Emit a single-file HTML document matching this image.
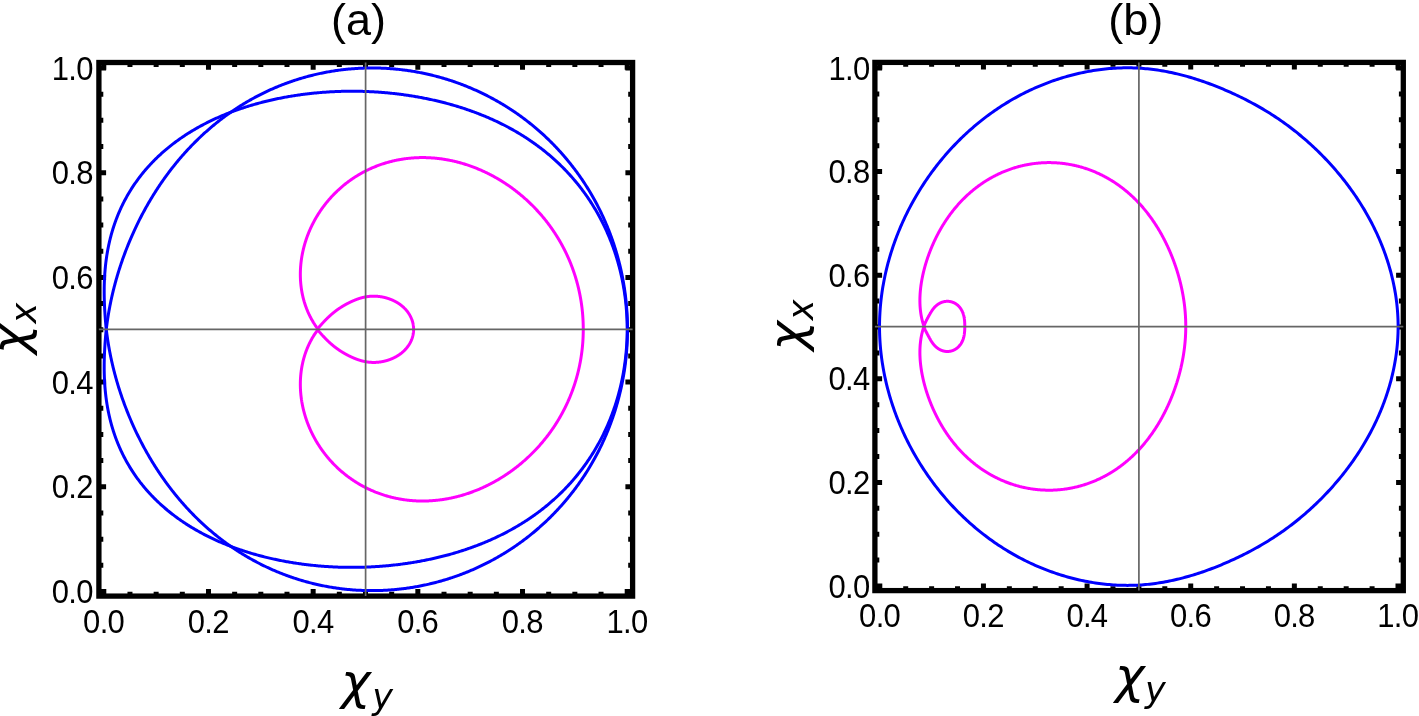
<!DOCTYPE html>
<html><head><meta charset="utf-8"><title>plot</title>
<style>html,body{margin:0;padding:0;background:#fff;}svg{display:block;}</style>
</head><body>
<svg width="1419" height="716" viewBox="0 0 1419 716">
<rect width="1419" height="716" fill="#fff"/>
<rect x="98.90" y="62.50" width="533.70" height="533.60" fill="none" stroke="#000" stroke-width="5.3"/>
<path d="M103.80 596.10V588.90M103.80 62.50V69.70M98.90 591.50H106.10M632.60 591.50H625.40M129.97 596.10V591.70M129.97 62.50V66.90M98.90 565.33H103.30M632.60 565.33H628.20M156.14 596.10V591.70M156.14 62.50V66.90M98.90 539.15H103.30M632.60 539.15H628.20M182.31 596.10V591.70M182.31 62.50V66.90M98.90 512.98H103.30M632.60 512.98H628.20M208.48 596.10V588.90M208.48 62.50V69.70M98.90 486.80H106.10M632.60 486.80H625.40M234.65 596.10V591.70M234.65 62.50V66.90M98.90 460.62H103.30M632.60 460.62H628.20M260.82 596.10V591.70M260.82 62.50V66.90M98.90 434.45H103.30M632.60 434.45H628.20M286.99 596.10V591.70M286.99 62.50V66.90M98.90 408.27H103.30M632.60 408.27H628.20M313.16 596.10V588.90M313.16 62.50V69.70M98.90 382.10H106.10M632.60 382.10H625.40M339.33 596.10V591.70M339.33 62.50V66.90M98.90 355.92H103.30M632.60 355.92H628.20M365.50 596.10V591.70M365.50 62.50V66.90M98.90 329.75H103.30M632.60 329.75H628.20M391.67 596.10V591.70M391.67 62.50V66.90M98.90 303.57H103.30M632.60 303.57H628.20M417.84 596.10V588.90M417.84 62.50V69.70M98.90 277.40H106.10M632.60 277.40H625.40M444.01 596.10V591.70M444.01 62.50V66.90M98.90 251.22H103.30M632.60 251.22H628.20M470.18 596.10V591.70M470.18 62.50V66.90M98.90 225.05H103.30M632.60 225.05H628.20M496.35 596.10V591.70M496.35 62.50V66.90M98.90 198.88H103.30M632.60 198.88H628.20M522.52 596.10V588.90M522.52 62.50V69.70M98.90 172.70H106.10M632.60 172.70H625.40M548.69 596.10V591.70M548.69 62.50V66.90M98.90 146.52H103.30M632.60 146.52H628.20M574.86 596.10V591.70M574.86 62.50V66.90M98.90 120.35H103.30M632.60 120.35H628.20M601.03 596.10V591.70M601.03 62.50V66.90M98.90 94.17H103.30M632.60 94.17H628.20M627.20 596.10V588.90M627.20 62.50V69.70M98.90 68.00H106.10M632.60 68.00H625.40" stroke="#000" stroke-width="5" fill="none"/>
<rect x="874.90" y="62.40" width="528.40" height="528.20" fill="none" stroke="#000" stroke-width="5.3"/>
<path d="M879.80 590.60V583.40M879.80 62.40V69.60M874.90 586.00H882.10M1403.30 586.00H1396.10M905.71 590.60V586.20M905.71 62.40V66.80M874.90 560.10H879.30M1403.30 560.10H1398.90M931.62 590.60V586.20M931.62 62.40V66.80M874.90 534.20H879.30M1403.30 534.20H1398.90M957.53 590.60V586.20M957.53 62.40V66.80M874.90 508.30H879.30M1403.30 508.30H1398.90M983.44 590.60V583.40M983.44 62.40V69.60M874.90 482.40H882.10M1403.30 482.40H1396.10M1009.35 590.60V586.20M1009.35 62.40V66.80M874.90 456.50H879.30M1403.30 456.50H1398.90M1035.26 590.60V586.20M1035.26 62.40V66.80M874.90 430.60H879.30M1403.30 430.60H1398.90M1061.17 590.60V586.20M1061.17 62.40V66.80M874.90 404.70H879.30M1403.30 404.70H1398.90M1087.08 590.60V583.40M1087.08 62.40V69.60M874.90 378.80H882.10M1403.30 378.80H1396.10M1112.99 590.60V586.20M1112.99 62.40V66.80M874.90 352.90H879.30M1403.30 352.90H1398.90M1138.90 590.60V586.20M1138.90 62.40V66.80M874.90 327.00H879.30M1403.30 327.00H1398.90M1164.81 590.60V586.20M1164.81 62.40V66.80M874.90 301.10H879.30M1403.30 301.10H1398.90M1190.72 590.60V583.40M1190.72 62.40V69.60M874.90 275.20H882.10M1403.30 275.20H1396.10M1216.63 590.60V586.20M1216.63 62.40V66.80M874.90 249.30H879.30M1403.30 249.30H1398.90M1242.54 590.60V586.20M1242.54 62.40V66.80M874.90 223.40H879.30M1403.30 223.40H1398.90M1268.45 590.60V586.20M1268.45 62.40V66.80M874.90 197.50H879.30M1403.30 197.50H1398.90M1294.36 590.60V583.40M1294.36 62.40V69.60M874.90 171.60H882.10M1403.30 171.60H1396.10M1320.27 590.60V586.20M1320.27 62.40V66.80M874.90 145.70H879.30M1403.30 145.70H1398.90M1346.18 590.60V586.20M1346.18 62.40V66.80M874.90 119.80H879.30M1403.30 119.80H1398.90M1372.09 590.60V586.20M1372.09 62.40V66.80M874.90 93.90H879.30M1403.30 93.90H1398.90M1398.00 590.60V583.40M1398.00 62.40V69.60M874.90 68.00H882.10M1403.30 68.00H1396.10" stroke="#000" stroke-width="5" fill="none"/>
<g fill="none" stroke-width="3" stroke-linejoin="round">
<path d="M106.30 329.30L106.43 330.43L106.57 331.56L106.71 332.69L106.85 333.82L107.00 334.94L107.15 336.07L107.31 337.19L107.47 338.31L107.63 339.43L107.80 340.55L107.98 341.67L108.15 342.79L108.34 343.91L108.52 345.02L108.71 346.13L108.90 347.25L109.10 348.36L109.30 349.47L109.51 350.58L109.72 351.68L109.93 352.79L110.15 353.89L110.37 355.00L110.59 356.10L110.82 357.20L111.05 358.30L111.29 359.39L111.53 360.49L111.77 361.58L112.02 362.68L112.27 363.77L112.52 364.86L112.78 365.95L113.04 367.04L113.31 368.12L113.58 369.21L113.85 370.29L114.13 371.37L114.41 372.45L114.69 373.53L114.98 374.61L115.27 375.69L115.56 376.76L115.86 377.83L116.16 378.91L116.46 379.98L116.77 381.05L117.08 382.11L117.40 383.18L117.72 384.24L118.04 385.31L118.36 386.37L118.69 387.43L119.02 388.49L119.36 389.54L119.70 390.60L120.04 391.65L120.38 392.70L120.73 393.75L121.08 394.80L121.44 395.85L121.80 396.90L122.16 397.94L122.52 398.99L122.89 400.03L123.26 401.07L123.64 402.11L124.02 403.14L124.40 404.18L124.78 405.21L125.17 406.24L125.56 407.28L125.96 408.30L126.36 409.33L126.76 410.36L127.16 411.38L127.57 412.41L127.98 413.43L128.39 414.45L128.81 415.46L129.23 416.48L129.65 417.50L130.08 418.51L130.51 419.52L130.94 420.53L131.38 421.54L131.82 422.55L132.26 423.55L132.71 424.56L133.16 425.56L133.61 426.56L134.06 427.56L134.52 428.55L134.98 429.55L135.45 430.54L135.92 431.54L136.39 432.53L136.86 433.52L137.34 434.50L137.82 435.49L138.31 436.47L138.79 437.45L139.28 438.43L139.78 439.41L140.27 440.39L140.77 441.37L141.28 442.34L141.78 443.31L142.29 444.28L142.81 445.25L143.32 446.22L143.84 447.18L144.37 448.14L144.89 449.10L145.42 450.06L145.95 451.02L146.49 451.98L147.03 452.93L147.57 453.88L148.11 454.83L148.66 455.78L149.21 456.73L149.77 457.67L150.33 458.61L150.89 459.55L151.45 460.49L152.02 461.43L152.59 462.36L153.17 463.30L153.74 464.23L154.33 465.16L154.91 466.08L155.50 467.01L156.09 467.93L156.68 468.85L157.28 469.77L157.88 470.69L158.48 471.60L159.09 472.52L159.70 473.43L160.32 474.34L160.93 475.24L161.55 476.15L162.18 477.05L162.81 477.95L163.44 478.85L164.07 479.74L164.71 480.64L165.35 481.53L165.99 482.42L166.64 483.30L167.29 484.19L167.94 485.07L168.60 485.95L169.26 486.83L169.93 487.70L170.59 488.58L171.26 489.45L171.94 490.31L172.62 491.18L173.30 492.04L173.98 492.90L174.67 493.76L175.36 494.62L176.05 495.47L176.75 496.32L177.45 497.17L178.16 498.02L178.86 498.86L179.58 499.70L180.29 500.54L181.01 501.37L181.73 502.21L182.45 503.04L183.18 503.86L183.91 504.69L184.65 505.51L185.39 506.33L186.13 507.15L186.87 507.96L187.62 508.77L188.37 509.58L189.13 510.39L189.89 511.19L190.65 511.99L191.41 512.78L192.18 513.58L192.95 514.37L193.73 515.16L194.51 515.94L195.29 516.72L196.07 517.50L196.86 518.28L197.65 519.05L198.45 519.82L199.25 520.59L200.05 521.35L200.86 522.11L201.66 522.87L202.48 523.62L203.29 524.37L204.11 525.12L204.93 525.86L205.76 526.60L206.58 527.34L207.42 528.08L208.25 528.81L209.09 529.54L209.93 530.26L210.78 530.98L211.62 531.70L212.47 532.41L213.33 533.12L214.19 533.83L215.05 534.53L215.91 535.23L216.78 535.93L217.65 536.62L218.52 537.31L219.40 538.00L220.28 538.68L221.16 539.36L222.05 540.03L222.93 540.70L223.83 541.37L224.72 542.03L225.62 542.69L226.52 543.35L227.43 544.00L228.33 544.65L229.24 545.29L230.16 545.93L231.07 546.57L231.99 547.20L232.92 547.83L233.84 548.46L234.77 549.08L235.70 549.70L236.64 550.31L237.57 550.92L238.51 551.52L239.46 552.13L240.40 552.72L241.35 553.31L242.30 553.90L243.26 554.49L244.21 555.07L245.17 555.65L246.14 556.22L247.10 556.79L248.07 557.35L249.04 557.91L250.01 558.46L250.99 559.01L251.97 559.56L252.95 560.10L253.94 560.64L254.92 561.18L255.91 561.70L256.90 562.23L257.90 562.75L258.90 563.27L259.90 563.78L260.90 564.29L261.90 564.79L262.91 565.29L263.92 565.78L264.93 566.27L265.95 566.76L266.96 567.24L267.98 567.71L269.00 568.18L270.03 568.65L271.05 569.11L272.08 569.57L273.11 570.02L274.15 570.47L275.18 570.91L276.22 571.35L277.26 571.79L278.30 572.22L279.34 572.64L280.39 573.06L281.44 573.48L282.49 573.89L283.54 574.29L284.60 574.70L285.65 575.09L286.71 575.48L287.77 575.87L288.83 576.25L289.90 576.63L290.96 577.00L292.03 577.37L293.10 577.73L294.17 578.09L295.25 578.44L296.32 578.79L297.40 579.14L298.48 579.47L299.56 579.81L300.64 580.14L301.73 580.46L302.81 580.78L303.90 581.09L304.99 581.40L306.08 581.70L307.17 582.00L308.26 582.30L309.36 582.59L310.46 582.87L311.55 583.15L312.65 583.42L313.75 583.69L314.86 583.95L315.96 584.21L317.06 584.47L318.17 584.72L319.28 584.96L320.39 585.20L321.50 585.43L322.61 585.66L323.72 585.88L324.83 586.10L325.95 586.31L327.07 586.52L328.18 586.73L329.30 586.92L330.42 587.12L331.54 587.30L332.66 587.49L333.78 587.66L334.91 587.84L336.03 588.00L337.16 588.16L338.28 588.32L339.41 588.47L340.54 588.62L341.66 588.76L342.79 588.90L343.92 589.03L345.05 589.15L346.18 589.27L347.32 589.39L348.45 589.50L349.58 589.61L350.72 589.71L351.85 589.80L352.99 589.89L354.12 589.97L355.26 590.05L356.39 590.13L357.53 590.20L358.67 590.26L359.81 590.32L360.94 590.37L362.08 590.42L363.22 590.46L364.36 590.50L365.50 590.53L366.64 590.56L367.78 590.58L368.92 590.60L370.06 590.61L371.20 590.62L372.34 590.62L373.48 590.62L374.62 590.61L375.76 590.59L376.91 590.57L378.05 590.55L379.19 590.52L380.33 590.48L381.47 590.44L382.61 590.40L383.75 590.35L384.89 590.29L386.03 590.23L387.17 590.16L388.31 590.09L389.45 590.02L390.59 589.94L391.73 589.85L392.87 589.76L394.01 589.66L395.15 589.56L396.28 589.45L397.42 589.34L398.56 589.22L399.70 589.10L400.83 588.97L401.97 588.83L403.10 588.70L404.24 588.55L405.37 588.40L406.51 588.25L407.64 588.09L408.77 587.93L409.90 587.76L411.03 587.58L412.16 587.40L413.29 587.22L414.42 587.03L415.55 586.83L416.68 586.63L417.80 586.43L418.93 586.22L420.05 586.00L421.18 585.78L422.30 585.56L423.42 585.32L424.54 585.09L425.66 584.85L426.78 584.60L427.90 584.35L429.02 584.09L430.13 583.83L431.25 583.57L432.36 583.30L433.47 583.02L434.58 582.74L435.69 582.45L436.80 582.16L437.91 581.86L439.01 581.56L440.12 581.26L441.22 580.94L442.32 580.63L443.42 580.31L444.52 579.98L445.62 579.65L446.72 579.31L447.81 578.97L448.91 578.63L450.00 578.27L451.09 577.92L452.18 577.56L453.27 577.19L454.35 576.82L455.44 576.44L456.52 576.06L457.60 575.68L458.68 575.29L459.76 574.89L460.83 574.49L461.90 574.08L462.98 573.67L464.05 573.26L465.12 572.84L466.18 572.42L467.25 571.99L468.31 571.55L469.37 571.11L470.43 570.67L471.49 570.22L472.54 569.77L473.59 569.31L474.65 568.84L475.69 568.38L476.74 567.90L477.79 567.43L478.83 566.94L479.87 566.46L480.91 565.97L481.94 565.47L482.98 564.97L484.01 564.46L485.04 563.95L486.07 563.44L487.09 562.92L488.11 562.39L489.13 561.86L490.15 561.33L491.17 560.79L492.18 560.25L493.19 559.70L494.20 559.15L495.20 558.59L496.21 558.03L497.21 557.47L498.20 556.90L499.20 556.32L500.19 555.74L501.18 555.16L502.17 554.57L503.16 553.98L504.14 553.38L505.12 552.78L506.09 552.17L507.07 551.56L508.04 550.95L509.01 550.33L509.97 549.70L510.94 549.07L511.90 548.44L512.85 547.80L513.81 547.16L514.76 546.52L515.71 545.87L516.65 545.21L517.60 544.55L518.54 543.89L519.47 543.22L520.41 542.55L521.34 541.88L522.27 541.20L523.19 540.51L524.11 539.83L525.03 539.13L525.95 538.44L526.86 537.74L527.77 537.03L528.67 536.32L529.57 535.61L530.47 534.89L531.37 534.17L532.26 533.45L533.15 532.72L534.04 531.98L534.92 531.25L535.80 530.50L536.68 529.76L537.55 529.01L538.42 528.26L539.28 527.50L540.15 526.74L541.00 525.97L541.86 525.20L542.71 524.43L543.56 523.66L544.40 522.88L545.25 522.09L546.08 521.30L546.92 520.51L547.75 519.72L548.58 518.92L549.40 518.11L550.22 517.31L551.03 516.50L551.85 515.68L552.66 514.86L553.46 514.04L554.26 513.22L555.06 512.39L555.85 511.56L556.64 510.72L557.43 509.88L558.21 509.04L558.99 508.19L559.76 507.34L560.53 506.49L561.30 505.63L562.06 504.77L562.82 503.91L563.58 503.04L564.33 502.17L565.08 501.30L565.82 500.42L566.56 499.54L567.30 498.66L568.03 497.77L568.75 496.88L569.48 495.99L570.20 495.09L570.91 494.19L571.62 493.29L572.33 492.38L573.03 491.47L573.73 490.56L574.43 489.65L575.12 488.73L575.80 487.81L576.49 486.88L577.17 485.95L577.84 485.02L578.51 484.09L579.17 483.15L579.84 482.21L580.49 481.27L581.15 480.33L581.79 479.38L582.44 478.43L583.08 477.47L583.72 476.52L584.35 475.56L584.97 474.59L585.60 473.63L586.22 472.66L586.83 471.69L587.44 470.72L588.05 469.74L588.65 468.76L589.24 467.78L589.84 466.80L590.42 465.81L591.01 464.82L591.59 463.83L592.16 462.84L592.73 461.84L593.30 460.84L593.86 459.84L594.42 458.84L594.97 457.83L595.52 456.83L596.06 455.81L596.60 454.80L597.14 453.79L597.67 452.77L598.19 451.75L598.71 450.73L599.23 449.70L599.74 448.68L600.25 447.65L600.75 446.62L601.25 445.58L601.75 444.55L602.23 443.51L602.72 442.47L603.20 441.43L603.68 440.38L604.15 439.34L604.61 438.29L605.08 437.24L605.53 436.19L605.99 435.14L606.43 434.08L606.88 433.02L607.32 431.96L607.75 430.90L608.18 429.84L608.61 428.78L609.03 427.71L609.44 426.64L609.85 425.57L610.26 424.50L610.66 423.43L611.06 422.35L611.45 421.27L611.84 420.20L612.22 419.12L612.60 418.03L612.97 416.95L613.34 415.87L613.71 414.78L614.07 413.69L614.42 412.60L614.77 411.51L615.12 410.42L615.46 409.33L615.79 408.23L616.13 407.14L616.45 406.04L616.77 404.94L617.09 403.84L617.40 402.74L617.71 401.63L618.01 400.53L618.31 399.42L618.61 398.32L618.90 397.21L619.18 396.10L619.46 394.99L619.73 393.88L620.00 392.77L620.27 391.65L620.53 390.54L620.78 389.42L621.04 388.31L621.28 387.19L621.52 386.07L621.76 384.95L621.99 383.83L622.22 382.71L622.44 381.59L622.66 380.46L622.87 379.34L623.08 378.21L623.28 377.09L623.48 375.96L623.68 374.83L623.86 373.70L624.05 372.57L624.23 371.44L624.40 370.31L624.57 369.18L624.74 368.05L624.90 366.92L625.05 365.78L625.20 364.65L625.35 363.52L625.49 362.38L625.63 361.25L625.76 360.11L625.89 358.97L626.01 357.84L626.13 356.70L626.24 355.56L626.35 354.42L626.45 353.28L626.55 352.14L626.64 351.00L626.73 349.86L626.81 348.72L626.89 347.58L626.97 346.44L627.04 345.30L627.10 344.16L627.16 343.02L627.22 341.87L627.27 340.73L627.31 339.59L627.35 338.45L627.39 337.30L627.42 336.16L627.45 335.02L627.47 333.87L627.48 332.73L627.50 331.59L627.50 330.44L627.51 329.30L627.50 328.16L627.50 327.01L627.48 325.87L627.47 324.73L627.45 323.58L627.42 322.44L627.39 321.30L627.35 320.15L627.31 319.01L627.27 317.87L627.22 316.73L627.16 315.58L627.10 314.44L627.04 313.30L626.97 312.16L626.89 311.02L626.81 309.88L626.73 308.74L626.64 307.60L626.55 306.46L626.45 305.32L626.35 304.18L626.24 303.04L626.13 301.90L626.01 300.76L625.89 299.63L625.76 298.49L625.63 297.35L625.49 296.22L625.35 295.08L625.20 293.95L625.05 292.82L624.90 291.68L624.74 290.55L624.57 289.42L624.40 288.29L624.23 287.16L624.05 286.03L623.86 284.90L623.68 283.77L623.48 282.64L623.28 281.51L623.08 280.39L622.87 279.26L622.66 278.14L622.44 277.01L622.22 275.89L621.99 274.77L621.76 273.65L621.52 272.53L621.28 271.41L621.04 270.29L620.78 269.18L620.53 268.06L620.27 266.95L620.00 265.83L619.73 264.72L619.46 263.61L619.18 262.50L618.90 261.39L618.61 260.28L618.31 259.18L618.01 258.07L617.71 256.97L617.40 255.86L617.09 254.76L616.77 253.66L616.45 252.56L616.13 251.46L615.79 250.37L615.46 249.27L615.12 248.18L614.77 247.09L614.42 246.00L614.07 244.91L613.71 243.82L613.34 242.73L612.97 241.65L612.60 240.57L612.22 239.48L611.84 238.40L611.45 237.33L611.06 236.25L610.66 235.17L610.26 234.10L609.85 233.03L609.44 231.96L609.03 230.89L608.61 229.82L608.18 228.76L607.75 227.70L607.32 226.64L606.88 225.58L606.43 224.52L605.99 223.46L605.53 222.41L605.08 221.36L604.61 220.31L604.15 219.26L603.68 218.22L603.20 217.17L602.72 216.13L602.23 215.09L601.75 214.05L601.25 213.02L600.75 211.98L600.25 210.95L599.74 209.92L599.23 208.90L598.71 207.87L598.19 206.85L597.67 205.83L597.14 204.81L596.60 203.80L596.06 202.79L595.52 201.77L594.97 200.77L594.42 199.76L593.86 198.76L593.30 197.76L592.73 196.76L592.16 195.76L591.59 194.77L591.01 193.78L590.42 192.79L589.84 191.80L589.24 190.82L588.65 189.84L588.05 188.86L587.44 187.88L586.83 186.91L586.22 185.94L585.60 184.97L584.97 184.01L584.35 183.04L583.72 182.08L583.08 181.13L582.44 180.17L581.79 179.22L581.15 178.27L580.49 177.33L579.84 176.39L579.17 175.45L578.51 174.51L577.84 173.58L577.17 172.65L576.49 171.72L575.80 170.79L575.12 169.87L574.43 168.95L573.73 168.04L573.03 167.13L572.33 166.22L571.62 165.31L570.91 164.41L570.20 163.51L569.48 162.61L568.75 161.72L568.03 160.83L567.30 159.94L566.56 159.06L565.82 158.18L565.08 157.30L564.33 156.43L563.58 155.56L562.82 154.69L562.06 153.83L561.30 152.97L560.53 152.11L559.76 151.26L558.99 150.41L558.21 149.56L557.43 148.72L556.64 147.88L555.85 147.04L555.06 146.21L554.26 145.38L553.46 144.56L552.66 143.74L551.85 142.92L551.03 142.10L550.22 141.29L549.40 140.49L548.58 139.68L547.75 138.88L546.92 138.09L546.08 137.30L545.25 136.51L544.40 135.72L543.56 134.94L542.71 134.17L541.86 133.40L541.00 132.63L540.15 131.86L539.28 131.10L538.42 130.34L537.55 129.59L536.68 128.84L535.80 128.10L534.92 127.35L534.04 126.62L533.15 125.88L532.26 125.15L531.37 124.43L530.47 123.71L529.57 122.99L528.67 122.28L527.77 121.57L526.86 120.86L525.95 120.16L525.03 119.47L524.11 118.77L523.19 118.09L522.27 117.40L521.34 116.72L520.41 116.05L519.47 115.38L518.54 114.71L517.60 114.05L516.65 113.39L515.71 112.73L514.76 112.08L513.81 111.44L512.85 110.80L511.90 110.16L510.94 109.53L509.97 108.90L509.01 108.27L508.04 107.65L507.07 107.04L506.09 106.43L505.12 105.82L504.14 105.22L503.16 104.62L502.17 104.03L501.18 103.44L500.19 102.86L499.20 102.28L498.20 101.70L497.21 101.13L496.21 100.57L495.20 100.01L494.20 99.45L493.19 98.90L492.18 98.35L491.17 97.81L490.15 97.27L489.13 96.74L488.11 96.21L487.09 95.68L486.07 95.16L485.04 94.65L484.01 94.14L482.98 93.63L481.94 93.13L480.91 92.63L479.87 92.14L478.83 91.66L477.79 91.17L476.74 90.70L475.69 90.22L474.65 89.76L473.59 89.29L472.54 88.83L471.49 88.38L470.43 87.93L469.37 87.49L468.31 87.05L467.25 86.61L466.18 86.18L465.12 85.76L464.05 85.34L462.98 84.93L461.90 84.52L460.83 84.11L459.76 83.71L458.68 83.31L457.60 82.92L456.52 82.54L455.44 82.16L454.35 81.78L453.27 81.41L452.18 81.04L451.09 80.68L450.00 80.33L448.91 79.97L447.81 79.63L446.72 79.29L445.62 78.95L444.52 78.62L443.42 78.29L442.32 77.97L441.22 77.66L440.12 77.34L439.01 77.04L437.91 76.74L436.80 76.44L435.69 76.15L434.58 75.86L433.47 75.58L432.36 75.30L431.25 75.03L430.13 74.77L429.02 74.51L427.90 74.25L426.78 74.00L425.66 73.75L424.54 73.51L423.42 73.28L422.30 73.04L421.18 72.82L420.05 72.60L418.93 72.38L417.80 72.17L416.68 71.97L415.55 71.77L414.42 71.57L413.29 71.38L412.16 71.20L411.03 71.02L409.90 70.84L408.77 70.67L407.64 70.51L406.51 70.35L405.37 70.20L404.24 70.05L403.10 69.90L401.97 69.77L400.83 69.63L399.70 69.50L398.56 69.38L397.42 69.26L396.28 69.15L395.15 69.04L394.01 68.94L392.87 68.84L391.73 68.75L390.59 68.66L389.45 68.58L388.31 68.51L387.17 68.44L386.03 68.37L384.89 68.31L383.75 68.25L382.61 68.20L381.47 68.16L380.33 68.12L379.19 68.08L378.05 68.05L376.91 68.03L375.76 68.01L374.62 67.99L373.48 67.98L372.34 67.98L371.20 67.98L370.06 67.99L368.92 68.00L367.78 68.02L366.64 68.04L365.50 68.07L364.36 68.10L363.22 68.14L362.08 68.18L360.94 68.23L359.81 68.28L358.67 68.34L357.53 68.40L356.39 68.47L355.26 68.55L354.12 68.63L352.99 68.71L351.85 68.80L350.72 68.89L349.58 68.99L348.45 69.10L347.32 69.21L346.18 69.33L345.05 69.45L343.92 69.57L342.79 69.70L341.66 69.84L340.54 69.98L339.41 70.13L338.28 70.28L337.16 70.44L336.03 70.60L334.91 70.76L333.78 70.94L332.66 71.11L331.54 71.30L330.42 71.48L329.30 71.68L328.18 71.87L327.07 72.08L325.95 72.29L324.83 72.50L323.72 72.72L322.61 72.94L321.50 73.17L320.39 73.40L319.28 73.64L318.17 73.88L317.06 74.13L315.96 74.39L314.86 74.65L313.75 74.91L312.65 75.18L311.55 75.45L310.46 75.73L309.36 76.01L308.26 76.30L307.17 76.60L306.08 76.90L304.99 77.20L303.90 77.51L302.81 77.82L301.73 78.14L300.64 78.46L299.56 78.79L298.48 79.13L297.40 79.46L296.32 79.81L295.25 80.16L294.17 80.51L293.10 80.87L292.03 81.23L290.96 81.60L289.90 81.97L288.83 82.35L287.77 82.73L286.71 83.12L285.65 83.51L284.60 83.90L283.54 84.31L282.49 84.71L281.44 85.12L280.39 85.54L279.34 85.96L278.30 86.38L277.26 86.81L276.22 87.25L275.18 87.69L274.15 88.13L273.11 88.58L272.08 89.03L271.05 89.49L270.03 89.95L269.00 90.42L267.98 90.89L266.96 91.36L265.95 91.84L264.93 92.33L263.92 92.82L262.91 93.31L261.90 93.81L260.90 94.31L259.90 94.82L258.90 95.33L257.90 95.85L256.90 96.37L255.91 96.90L254.92 97.42L253.94 97.96L252.95 98.50L251.97 99.04L250.99 99.59L250.01 100.14L249.04 100.69L248.07 101.25L247.10 101.81L246.14 102.38L245.17 102.95L244.21 103.53L243.26 104.11L242.30 104.70L241.35 105.29L240.40 105.88L239.46 106.47L238.51 107.08L237.57 107.68L236.64 108.29L235.70 108.90L234.77 109.52L233.84 110.14L232.92 110.77L231.99 111.40L231.07 112.03L230.16 112.67L229.24 113.31L228.33 113.95L227.43 114.60L226.52 115.25L225.62 115.91L224.72 116.57L223.83 117.23L222.93 117.90L222.05 118.57L221.16 119.24L220.28 119.92L219.40 120.60L218.52 121.29L217.65 121.98L216.78 122.67L215.91 123.37L215.05 124.07L214.19 124.77L213.33 125.48L212.47 126.19L211.62 126.90L210.78 127.62L209.93 128.34L209.09 129.06L208.25 129.79L207.42 130.52L206.58 131.26L205.76 132.00L204.93 132.74L204.11 133.48L203.29 134.23L202.48 134.98L201.66 135.73L200.86 136.49L200.05 137.25L199.25 138.01L198.45 138.78L197.65 139.55L196.86 140.32L196.07 141.10L195.29 141.88L194.51 142.66L193.73 143.44L192.95 144.23L192.18 145.02L191.41 145.82L190.65 146.61L189.89 147.41L189.13 148.21L188.37 149.02L187.62 149.83L186.87 150.64L186.13 151.45L185.39 152.27L184.65 153.09L183.91 153.91L183.18 154.74L182.45 155.56L181.73 156.39L181.01 157.23L180.29 158.06L179.58 158.90L178.86 159.74L178.16 160.58L177.45 161.43L176.75 162.28L176.05 163.13L175.36 163.98L174.67 164.84L173.98 165.70L173.30 166.56L172.62 167.42L171.94 168.29L171.26 169.15L170.59 170.02L169.93 170.90L169.26 171.77L168.60 172.65L167.94 173.53L167.29 174.41L166.64 175.30L165.99 176.18L165.35 177.07L164.71 177.96L164.07 178.86L163.44 179.75L162.81 180.65L162.18 181.55L161.55 182.45L160.93 183.36L160.32 184.26L159.70 185.17L159.09 186.08L158.48 187.00L157.88 187.91L157.28 188.83L156.68 189.75L156.09 190.67L155.50 191.59L154.91 192.52L154.33 193.44L153.74 194.37L153.17 195.30L152.59 196.24L152.02 197.17L151.45 198.11L150.89 199.05L150.33 199.99L149.77 200.93L149.21 201.87L148.66 202.82L148.11 203.77L147.57 204.72L147.03 205.67L146.49 206.62L145.95 207.58L145.42 208.54L144.89 209.50L144.37 210.46L143.84 211.42L143.32 212.38L142.81 213.35L142.29 214.32L141.78 215.29L141.28 216.26L140.77 217.23L140.27 218.21L139.78 219.19L139.28 220.17L138.79 221.15L138.31 222.13L137.82 223.11L137.34 224.10L136.86 225.08L136.39 226.07L135.92 227.06L135.45 228.06L134.98 229.05L134.52 230.05L134.06 231.04L133.61 232.04L133.16 233.04L132.71 234.04L132.26 235.05L131.82 236.05L131.38 237.06L130.94 238.07L130.51 239.08L130.08 240.09L129.65 241.10L129.23 242.12L128.81 243.14L128.39 244.15L127.98 245.17L127.57 246.19L127.16 247.22L126.76 248.24L126.36 249.27L125.96 250.30L125.56 251.32L125.17 252.36L124.78 253.39L124.40 254.42L124.02 255.46L123.64 256.49L123.26 257.53L122.89 258.57L122.52 259.61L122.16 260.66L121.80 261.70L121.44 262.75L121.08 263.80L120.73 264.85L120.38 265.90L120.04 266.95L119.70 268.00L119.36 269.06L119.02 270.11L118.69 271.17L118.36 272.23L118.04 273.29L117.72 274.36L117.40 275.42L117.08 276.49L116.77 277.55L116.46 278.62L116.16 279.69L115.86 280.77L115.56 281.84L115.27 282.91L114.98 283.99L114.69 285.07L114.41 286.15L114.13 287.23L113.85 288.31L113.58 289.39L113.31 290.48L113.04 291.56L112.78 292.65L112.52 293.74L112.27 294.83L112.02 295.92L111.77 297.02L111.53 298.11L111.29 299.21L111.05 300.30L110.82 301.40L110.59 302.50L110.37 303.60L110.15 304.71L109.93 305.81L109.72 306.92L109.51 308.02L109.30 309.13L109.10 310.24L108.90 311.35L108.71 312.47L108.52 313.58L108.34 314.69L108.15 315.81L107.98 316.93L107.80 318.05L107.63 319.17L107.47 320.29L107.31 321.41L107.15 322.53L107.00 323.66L106.85 324.78L106.71 325.91L106.57 327.04L106.43 328.17L106.30 329.30Z" stroke="#0000ff"/>
<path d="M106.23 329.30L106.12 330.43L106.01 331.56L105.91 332.70L105.81 333.83L105.71 334.97L105.61 336.11L105.51 337.24L105.42 338.38L105.33 339.52L105.25 340.67L105.16 341.81L105.08 342.95L105.00 344.09L104.93 345.24L104.86 346.39L104.79 347.53L104.72 348.68L104.66 349.83L104.60 350.98L104.55 352.13L104.49 353.29L104.45 354.44L104.40 355.60L104.36 356.75L104.33 357.91L104.29 359.07L104.27 360.22L104.24 361.38L104.22 362.54L104.21 363.71L104.20 364.87L104.19 366.03L104.19 367.20L104.19 368.36L104.20 369.53L104.21 370.69L104.23 371.86L104.25 373.03L104.28 374.19L104.32 375.36L104.35 376.53L104.40 377.70L104.45 378.87L104.50 380.04L104.56 381.21L104.63 382.38L104.70 383.56L104.78 384.73L104.86 385.90L104.95 387.07L105.05 388.25L105.15 389.42L105.26 390.59L105.37 391.76L105.49 392.94L105.62 394.11L105.75 395.28L105.89 396.45L106.04 397.62L106.19 398.79L106.35 399.96L106.52 401.13L106.69 402.30L106.88 403.47L107.06 404.64L107.26 405.81L107.46 406.98L107.67 408.14L107.88 409.31L108.11 410.47L108.34 411.63L108.58 412.80L108.82 413.96L109.07 415.12L109.33 416.27L109.60 417.43L109.88 418.59L110.16 419.74L110.45 420.89L110.75 422.04L111.05 423.19L111.36 424.34L111.68 425.48L112.01 426.62L112.35 427.76L112.69 428.90L113.04 430.04L113.40 431.17L113.77 432.30L114.15 433.43L114.53 434.56L114.92 435.69L115.32 436.81L115.72 437.93L116.14 439.04L116.56 440.16L116.99 441.27L117.43 442.37L117.87 443.48L118.33 444.58L118.79 445.68L119.26 446.77L119.74 447.86L120.22 448.95L120.71 450.04L121.21 451.12L121.72 452.20L122.24 453.27L122.76 454.34L123.30 455.41L123.83 456.47L124.38 457.53L124.94 458.58L125.50 459.64L126.07 460.68L126.65 461.72L127.23 462.76L127.82 463.80L128.42 464.83L129.03 465.85L129.65 466.87L130.27 467.89L130.90 468.90L131.53 469.91L132.18 470.91L132.83 471.91L133.49 472.90L134.15 473.89L134.83 474.87L135.51 475.85L136.19 476.82L136.89 477.79L137.59 478.76L138.29 479.71L139.01 480.67L139.73 481.61L140.45 482.56L141.19 483.49L141.93 484.43L142.68 485.35L143.43 486.27L144.19 487.19L144.95 488.10L145.73 489.01L146.50 489.91L147.29 490.80L148.08 491.69L148.87 492.57L149.68 493.45L150.48 494.32L151.30 495.18L152.12 496.04L152.94 496.90L153.77 497.75L154.61 498.59L155.45 499.43L156.30 500.26L157.15 501.08L158.01 501.90L158.87 502.72L159.74 503.52L160.61 504.33L161.49 505.12L162.37 505.91L163.26 506.70L164.15 507.48L165.04 508.25L165.95 509.01L166.85 509.77L167.76 510.53L168.68 511.28L169.59 512.02L170.52 512.76L171.44 513.49L172.38 514.21L173.31 514.93L174.25 515.64L175.19 516.35L176.14 517.05L177.09 517.75L178.04 518.44L179.00 519.12L179.96 519.80L180.93 520.47L181.90 521.13L182.87 521.79L183.84 522.45L184.82 523.09L185.80 523.74L186.78 524.37L187.77 525.00L188.76 525.63L189.75 526.25L190.75 526.86L191.75 527.47L192.75 528.07L193.75 528.66L194.76 529.25L195.77 529.84L196.78 530.42L197.79 530.99L198.80 531.56L199.82 532.12L200.84 532.67L201.86 533.22L202.89 533.77L203.91 534.31L204.94 534.84L205.97 535.37L207.00 535.90L208.04 536.41L209.07 536.93L210.11 537.43L211.15 537.93L212.19 538.43L213.23 538.92L214.27 539.41L215.32 539.89L216.36 540.36L217.41 540.83L218.46 541.30L219.51 541.76L220.56 542.21L221.61 542.66L222.66 543.11L223.72 543.55L224.77 543.98L225.83 544.41L226.89 544.84L227.95 545.26L229.00 545.67L230.06 546.08L231.12 546.49L232.19 546.89L233.25 547.29L234.31 547.68L235.37 548.07L236.44 548.45L237.50 548.82L238.57 549.20L239.63 549.57L240.70 549.93L241.76 550.29L242.83 550.64L243.90 550.99L244.97 551.34L246.03 551.68L247.10 552.02L248.17 552.35L249.24 552.68L250.31 553.00L251.38 553.32L252.45 553.64L253.52 553.95L254.58 554.26L255.65 554.56L256.72 554.86L257.79 555.15L258.86 555.44L259.93 555.73L261.00 556.01L262.07 556.29L263.14 556.57L264.21 556.84L265.28 557.10L266.35 557.37L267.42 557.63L268.49 557.88L269.56 558.13L270.63 558.38L271.70 558.62L272.77 558.86L273.84 559.10L274.91 559.33L275.97 559.56L277.04 559.79L278.11 560.01L279.18 560.23L280.24 560.44L281.31 560.65L282.38 560.86L283.44 561.06L284.51 561.26L285.58 561.46L286.64 561.65L287.71 561.84L288.77 562.03L289.84 562.21L290.90 562.39L291.97 562.56L293.03 562.74L294.09 562.90L295.16 563.07L296.22 563.23L297.28 563.39L298.34 563.55L299.41 563.70L300.47 563.85L301.53 563.99L302.59 564.14L303.65 564.27L304.71 564.41L305.77 564.54L306.83 564.67L307.88 564.80L308.94 564.92L310.00 565.04L311.06 565.16L312.11 565.27L313.17 565.38L314.23 565.49L315.28 565.60L316.34 565.70L317.39 565.80L318.45 565.89L319.50 565.98L320.56 566.07L321.61 566.16L322.66 566.24L323.71 566.32L324.77 566.40L325.82 566.47L326.87 566.54L327.92 566.61L328.97 566.68L330.02 566.74L331.07 566.80L332.12 566.85L333.17 566.91L334.22 566.96L335.27 567.00L336.31 567.05L337.36 567.09L338.41 567.13L339.45 567.16L340.50 567.20L341.55 567.23L342.59 567.25L343.64 567.28L344.68 567.30L345.73 567.32L346.77 567.33L347.81 567.35L348.86 567.36L349.90 567.36L350.94 567.37L351.98 567.37L353.03 567.37L354.07 567.36L355.11 567.36L356.15 567.35L357.19 567.33L358.23 567.32L359.27 567.30L360.31 567.28L361.35 567.25L362.39 567.23L363.42 567.20L364.46 567.16L365.50 567.13L366.54 567.09L367.57 567.05L368.61 567.01L369.65 566.96L370.68 566.91L371.72 566.86L372.75 566.80L373.79 566.74L374.83 566.68L375.86 566.62L376.89 566.55L377.93 566.49L378.96 566.41L380.00 566.34L381.03 566.26L382.06 566.18L383.09 566.10L384.13 566.01L385.16 565.92L386.19 565.83L387.22 565.74L388.25 565.64L389.28 565.54L390.31 565.44L391.34 565.33L392.38 565.23L393.41 565.11L394.43 565.00L395.46 564.88L396.49 564.76L397.52 564.64L398.55 564.52L399.58 564.39L400.61 564.26L401.64 564.12L402.66 563.99L403.69 563.85L404.72 563.70L405.75 563.56L406.77 563.41L407.80 563.26L408.82 563.10L409.85 562.95L410.88 562.79L411.90 562.62L412.93 562.46L413.95 562.29L414.98 562.12L416.00 561.94L417.03 561.76L418.05 561.58L419.07 561.40L420.10 561.21L421.12 561.02L422.14 560.83L423.17 560.63L424.19 560.43L425.21 560.23L426.23 560.03L427.26 559.82L428.28 559.61L429.30 559.39L430.32 559.17L431.34 558.95L432.36 558.73L433.38 558.50L434.40 558.27L435.42 558.04L436.44 557.80L437.46 557.56L438.48 557.32L439.49 557.07L440.51 556.82L441.53 556.57L442.55 556.31L443.56 556.05L444.58 555.79L445.60 555.53L446.61 555.26L447.63 554.98L448.64 554.71L449.66 554.43L450.67 554.14L451.68 553.86L452.70 553.57L453.71 553.27L454.72 552.98L455.73 552.68L456.74 552.37L457.76 552.07L458.77 551.76L459.78 551.44L460.78 551.12L461.79 550.80L462.80 550.48L463.81 550.15L464.82 549.81L465.82 549.48L466.83 549.14L467.83 548.79L468.84 548.45L469.84 548.10L470.84 547.74L471.85 547.38L472.85 547.02L473.85 546.65L474.85 546.28L475.85 545.91L476.85 545.53L477.84 545.15L478.84 544.76L479.84 544.37L480.83 543.98L481.82 543.58L482.82 543.18L483.81 542.78L484.80 542.37L485.79 541.95L486.78 541.54L487.77 541.12L488.76 540.69L489.74 540.26L490.73 539.83L491.71 539.39L492.69 538.95L493.67 538.50L494.65 538.05L495.63 537.60L496.61 537.14L497.59 536.67L498.56 536.21L499.53 535.73L500.51 535.26L501.48 534.78L502.45 534.29L503.41 533.81L504.38 533.31L505.35 532.81L506.31 532.31L507.27 531.81L508.23 531.30L509.19 530.78L510.14 530.26L511.10 529.74L512.05 529.21L513.00 528.68L513.95 528.14L514.90 527.60L515.85 527.05L516.79 526.50L517.73 525.95L518.67 525.39L519.61 524.82L520.54 524.26L521.48 523.68L522.41 523.10L523.34 522.52L524.27 521.94L525.19 521.34L526.11 520.75L527.03 520.15L527.95 519.54L528.87 518.93L529.78 518.32L530.69 517.70L531.60 517.08L532.50 516.45L533.41 515.82L534.31 515.18L535.21 514.54L536.10 513.89L536.99 513.24L537.88 512.58L538.77 511.92L539.65 511.26L540.54 510.59L541.41 509.92L542.29 509.24L543.16 508.55L544.03 507.87L544.90 507.17L545.76 506.48L546.62 505.77L547.48 505.07L548.33 504.36L549.18 503.64L550.03 502.92L550.87 502.20L551.72 501.47L552.55 500.74L553.39 500.00L554.22 499.25L555.04 498.51L555.87 497.76L556.69 497.00L557.50 496.24L558.32 495.47L559.13 494.70L559.93 493.93L560.73 493.15L561.53 492.37L562.33 491.58L563.12 490.79L563.90 490.00L564.69 489.19L565.47 488.39L566.24 487.58L567.01 486.77L567.78 485.95L568.54 485.13L569.30 484.30L570.05 483.47L570.81 482.64L571.55 481.80L572.29 480.96L573.03 480.11L573.77 479.26L574.49 478.40L575.22 477.54L575.94 476.68L576.66 475.81L577.37 474.94L578.08 474.07L578.78 473.19L579.48 472.30L580.17 471.42L580.86 470.52L581.55 469.63L582.23 468.73L582.90 467.83L583.57 466.92L584.24 466.01L584.90 465.10L585.56 464.18L586.21 463.26L586.86 462.33L587.50 461.40L588.14 460.47L588.78 459.54L589.40 458.60L590.03 457.65L590.65 456.71L591.26 455.76L591.87 454.80L592.47 453.85L593.07 452.89L593.67 451.92L594.26 450.96L594.84 449.98L595.42 449.01L595.99 448.03L596.56 447.06L597.13 446.07L597.69 445.09L598.24 444.10L598.79 443.10L599.33 442.11L599.87 441.11L600.41 440.11L600.93 439.11L601.46 438.10L601.98 437.09L602.49 436.08L603.00 435.06L603.50 434.04L604.00 433.02L604.49 432.00L604.98 430.97L605.46 429.94L605.93 428.91L606.41 427.88L606.87 426.84L607.33 425.80L607.79 424.76L608.24 423.71L608.68 422.67L609.12 421.62L609.56 420.57L609.99 419.51L610.41 418.46L610.83 417.40L611.24 416.34L611.65 415.28L612.05 414.21L612.45 413.14L612.84 412.08L613.23 411.00L613.61 409.93L613.99 408.86L614.36 407.78L614.72 406.70L615.08 405.62L615.44 404.54L615.79 403.45L616.13 402.37L616.47 401.28L616.80 400.19L617.13 399.10L617.45 398.00L617.77 396.91L618.08 395.81L618.39 394.71L618.69 393.61L618.99 392.51L619.28 391.41L619.57 390.31L619.85 389.20L620.12 388.10L620.39 386.99L620.66 385.88L620.91 384.77L621.17 383.65L621.42 382.54L621.66 381.43L621.90 380.31L622.13 379.19L622.36 378.08L622.58 376.96L622.80 375.84L623.01 374.71L623.21 373.59L623.42 372.47L623.61 371.34L623.80 370.22L623.99 369.09L624.17 367.97L624.34 366.84L624.51 365.71L624.68 364.58L624.83 363.45L624.99 362.32L625.14 361.19L625.28 360.05L625.42 358.92L625.55 357.79L625.68 356.65L625.80 355.52L625.92 354.38L626.03 353.24L626.14 352.11L626.24 350.97L626.33 349.83L626.42 348.69L626.51 347.56L626.59 346.42L626.67 345.28L626.74 344.14L626.80 343.00L626.86 341.86L626.92 340.72L626.97 339.57L627.01 338.43L627.05 337.29L627.08 336.15L627.11 335.01L627.13 333.87L627.15 332.73L627.17 331.58L627.17 330.44L627.18 329.30L627.17 328.16L627.17 327.02L627.15 325.87L627.13 324.73L627.11 323.59L627.08 322.45L627.05 321.31L627.01 320.17L626.97 319.03L626.92 317.88L626.86 316.74L626.80 315.60L626.74 314.46L626.67 313.32L626.59 312.18L626.51 311.04L626.42 309.91L626.33 308.77L626.24 307.63L626.14 306.49L626.03 305.36L625.92 304.22L625.80 303.08L625.68 301.95L625.55 300.81L625.42 299.68L625.28 298.55L625.14 297.41L624.99 296.28L624.83 295.15L624.68 294.02L624.51 292.89L624.34 291.76L624.17 290.63L623.99 289.51L623.80 288.38L623.61 287.26L623.42 286.13L623.21 285.01L623.01 283.89L622.80 282.76L622.58 281.64L622.36 280.52L622.13 279.41L621.90 278.29L621.66 277.17L621.42 276.06L621.17 274.95L620.91 273.83L620.66 272.72L620.39 271.61L620.12 270.50L619.85 269.40L619.57 268.29L619.28 267.19L618.99 266.09L618.69 264.99L618.39 263.89L618.08 262.79L617.77 261.69L617.45 260.60L617.13 259.50L616.80 258.41L616.47 257.32L616.13 256.23L615.79 255.15L615.44 254.06L615.08 252.98L614.72 251.90L614.36 250.82L613.99 249.74L613.61 248.67L613.23 247.60L612.84 246.52L612.45 245.46L612.05 244.39L611.65 243.32L611.24 242.26L610.83 241.20L610.41 240.14L609.99 239.09L609.56 238.03L609.12 236.98L608.68 235.93L608.24 234.89L607.79 233.84L607.33 232.80L606.87 231.76L606.41 230.72L605.93 229.69L605.46 228.66L604.98 227.63L604.49 226.60L604.00 225.58L603.50 224.56L603.00 223.54L602.49 222.52L601.98 221.51L601.46 220.50L600.93 219.49L600.41 218.49L599.87 217.49L599.33 216.49L598.79 215.50L598.24 214.50L597.69 213.51L597.13 212.53L596.56 211.54L595.99 210.57L595.42 209.59L594.84 208.62L594.26 207.64L593.67 206.68L593.07 205.71L592.47 204.75L591.87 203.80L591.26 202.84L590.65 201.89L590.03 200.95L589.40 200.00L588.78 199.06L588.14 198.13L587.50 197.20L586.86 196.27L586.21 195.34L585.56 194.42L584.90 193.50L584.24 192.59L583.57 191.68L582.90 190.77L582.23 189.87L581.55 188.97L580.86 188.08L580.17 187.18L579.48 186.30L578.78 185.41L578.08 184.53L577.37 183.66L576.66 182.79L575.94 181.92L575.22 181.06L574.49 180.20L573.77 179.34L573.03 178.49L572.29 177.64L571.55 176.80L570.81 175.96L570.05 175.13L569.30 174.30L568.54 173.47L567.78 172.65L567.01 171.83L566.24 171.02L565.47 170.21L564.69 169.41L563.90 168.60L563.12 167.81L562.33 167.02L561.53 166.23L560.73 165.45L559.93 164.67L559.13 163.90L558.32 163.13L557.50 162.36L556.69 161.60L555.87 160.84L555.04 160.09L554.22 159.35L553.39 158.60L552.55 157.86L551.72 157.13L550.87 156.40L550.03 155.68L549.18 154.96L548.33 154.24L547.48 153.53L546.62 152.83L545.76 152.12L544.90 151.43L544.03 150.73L543.16 150.05L542.29 149.36L541.41 148.68L540.54 148.01L539.65 147.34L538.77 146.68L537.88 146.02L536.99 145.36L536.10 144.71L535.21 144.06L534.31 143.42L533.41 142.78L532.50 142.15L531.60 141.52L530.69 140.90L529.78 140.28L528.87 139.67L527.95 139.06L527.03 138.45L526.11 137.85L525.19 137.26L524.27 136.66L523.34 136.08L522.41 135.50L521.48 134.92L520.54 134.34L519.61 133.78L518.67 133.21L517.73 132.65L516.79 132.10L515.85 131.55L514.90 131.00L513.95 130.46L513.00 129.92L512.05 129.39L511.10 128.86L510.14 128.34L509.19 127.82L508.23 127.30L507.27 126.79L506.31 126.29L505.35 125.79L504.38 125.29L503.41 124.79L502.45 124.31L501.48 123.82L500.51 123.34L499.53 122.87L498.56 122.39L497.59 121.93L496.61 121.46L495.63 121.00L494.65 120.55L493.67 120.10L492.69 119.65L491.71 119.21L490.73 118.77L489.74 118.34L488.76 117.91L487.77 117.48L486.78 117.06L485.79 116.65L484.80 116.23L483.81 115.82L482.82 115.42L481.82 115.02L480.83 114.62L479.84 114.23L478.84 113.84L477.84 113.45L476.85 113.07L475.85 112.69L474.85 112.32L473.85 111.95L472.85 111.58L471.85 111.22L470.84 110.86L469.84 110.50L468.84 110.15L467.83 109.81L466.83 109.46L465.82 109.12L464.82 108.79L463.81 108.45L462.80 108.12L461.79 107.80L460.78 107.48L459.78 107.16L458.77 106.84L457.76 106.53L456.74 106.23L455.73 105.92L454.72 105.62L453.71 105.33L452.70 105.03L451.68 104.74L450.67 104.46L449.66 104.17L448.64 103.89L447.63 103.62L446.61 103.34L445.60 103.07L444.58 102.81L443.56 102.55L442.55 102.29L441.53 102.03L440.51 101.78L439.49 101.53L438.48 101.28L437.46 101.04L436.44 100.80L435.42 100.56L434.40 100.33L433.38 100.10L432.36 99.87L431.34 99.65L430.32 99.43L429.30 99.21L428.28 98.99L427.26 98.78L426.23 98.57L425.21 98.37L424.19 98.17L423.17 97.97L422.14 97.77L421.12 97.58L420.10 97.39L419.07 97.20L418.05 97.02L417.03 96.84L416.00 96.66L414.98 96.48L413.95 96.31L412.93 96.14L411.90 95.98L410.88 95.81L409.85 95.65L408.82 95.50L407.80 95.34L406.77 95.19L405.75 95.04L404.72 94.90L403.69 94.75L402.66 94.61L401.64 94.48L400.61 94.34L399.58 94.21L398.55 94.08L397.52 93.96L396.49 93.84L395.46 93.72L394.43 93.60L393.41 93.49L392.38 93.37L391.34 93.27L390.31 93.16L389.28 93.06L388.25 92.96L387.22 92.86L386.19 92.77L385.16 92.68L384.13 92.59L383.09 92.50L382.06 92.42L381.03 92.34L380.00 92.26L378.96 92.19L377.93 92.11L376.89 92.05L375.86 91.98L374.83 91.92L373.79 91.86L372.75 91.80L371.72 91.74L370.68 91.69L369.65 91.64L368.61 91.59L367.57 91.55L366.54 91.51L365.50 91.47L364.46 91.44L363.42 91.40L362.39 91.37L361.35 91.35L360.31 91.32L359.27 91.30L358.23 91.28L357.19 91.27L356.15 91.25L355.11 91.24L354.07 91.24L353.03 91.23L351.98 91.23L350.94 91.23L349.90 91.24L348.86 91.24L347.81 91.25L346.77 91.27L345.73 91.28L344.68 91.30L343.64 91.32L342.59 91.35L341.55 91.37L340.50 91.40L339.45 91.44L338.41 91.47L337.36 91.51L336.31 91.55L335.27 91.60L334.22 91.64L333.17 91.69L332.12 91.75L331.07 91.80L330.02 91.86L328.97 91.92L327.92 91.99L326.87 92.06L325.82 92.13L324.77 92.20L323.71 92.28L322.66 92.36L321.61 92.44L320.56 92.53L319.50 92.62L318.45 92.71L317.39 92.80L316.34 92.90L315.28 93.00L314.23 93.11L313.17 93.22L312.11 93.33L311.06 93.44L310.00 93.56L308.94 93.68L307.88 93.80L306.83 93.93L305.77 94.06L304.71 94.19L303.65 94.33L302.59 94.46L301.53 94.61L300.47 94.75L299.41 94.90L298.34 95.05L297.28 95.21L296.22 95.37L295.16 95.53L294.09 95.70L293.03 95.86L291.97 96.04L290.90 96.21L289.84 96.39L288.77 96.57L287.71 96.76L286.64 96.95L285.58 97.14L284.51 97.34L283.44 97.54L282.38 97.74L281.31 97.95L280.24 98.16L279.18 98.37L278.11 98.59L277.04 98.81L275.97 99.04L274.91 99.27L273.84 99.50L272.77 99.74L271.70 99.98L270.63 100.22L269.56 100.47L268.49 100.72L267.42 100.97L266.35 101.23L265.28 101.50L264.21 101.76L263.14 102.03L262.07 102.31L261.00 102.59L259.93 102.87L258.86 103.16L257.79 103.45L256.72 103.74L255.65 104.04L254.58 104.34L253.52 104.65L252.45 104.96L251.38 105.28L250.31 105.60L249.24 105.92L248.17 106.25L247.10 106.58L246.03 106.92L244.97 107.26L243.90 107.61L242.83 107.96L241.76 108.31L240.70 108.67L239.63 109.03L238.57 109.40L237.50 109.78L236.44 110.15L235.37 110.53L234.31 110.92L233.25 111.31L232.19 111.71L231.12 112.11L230.06 112.52L229.00 112.93L227.95 113.34L226.89 113.76L225.83 114.19L224.77 114.62L223.72 115.05L222.66 115.49L221.61 115.94L220.56 116.39L219.51 116.84L218.46 117.30L217.41 117.77L216.36 118.24L215.32 118.71L214.27 119.19L213.23 119.68L212.19 120.17L211.15 120.67L210.11 121.17L209.07 121.67L208.04 122.19L207.00 122.70L205.97 123.23L204.94 123.76L203.91 124.29L202.89 124.83L201.86 125.38L200.84 125.93L199.82 126.48L198.80 127.04L197.79 127.61L196.78 128.18L195.77 128.76L194.76 129.35L193.75 129.94L192.75 130.53L191.75 131.13L190.75 131.74L189.75 132.35L188.76 132.97L187.77 133.60L186.78 134.23L185.80 134.86L184.82 135.51L183.84 136.15L182.87 136.81L181.90 137.47L180.93 138.13L179.96 138.80L179.00 139.48L178.04 140.16L177.09 140.85L176.14 141.55L175.19 142.25L174.25 142.96L173.31 143.67L172.38 144.39L171.44 145.11L170.52 145.84L169.59 146.58L168.68 147.32L167.76 148.07L166.85 148.83L165.95 149.59L165.04 150.35L164.15 151.12L163.26 151.90L162.37 152.69L161.49 153.48L160.61 154.27L159.74 155.08L158.87 155.88L158.01 156.70L157.15 157.52L156.30 158.34L155.45 159.17L154.61 160.01L153.77 160.85L152.94 161.70L152.12 162.56L151.30 163.42L150.48 164.28L149.68 165.15L148.87 166.03L148.08 166.91L147.29 167.80L146.50 168.69L145.73 169.59L144.95 170.50L144.19 171.41L143.43 172.33L142.68 173.25L141.93 174.17L141.19 175.11L140.45 176.04L139.73 176.99L139.01 177.93L138.29 178.89L137.59 179.84L136.89 180.81L136.19 181.78L135.51 182.75L134.83 183.73L134.15 184.71L133.49 185.70L132.83 186.69L132.18 187.69L131.53 188.69L130.90 189.70L130.27 190.71L129.65 191.73L129.03 192.75L128.42 193.77L127.82 194.80L127.23 195.84L126.65 196.88L126.07 197.92L125.50 198.96L124.94 200.02L124.38 201.07L123.83 202.13L123.30 203.19L122.76 204.26L122.24 205.33L121.72 206.40L121.21 207.48L120.71 208.56L120.22 209.65L119.74 210.74L119.26 211.83L118.79 212.92L118.33 214.02L117.87 215.12L117.43 216.23L116.99 217.33L116.56 218.44L116.14 219.56L115.72 220.67L115.32 221.79L114.92 222.91L114.53 224.04L114.15 225.17L113.77 226.30L113.40 227.43L113.04 228.56L112.69 229.70L112.35 230.84L112.01 231.98L111.68 233.12L111.36 234.26L111.05 235.41L110.75 236.56L110.45 237.71L110.16 238.86L109.88 240.01L109.60 241.17L109.33 242.33L109.07 243.48L108.82 244.64L108.58 245.80L108.34 246.97L108.11 248.13L107.88 249.29L107.67 250.46L107.46 251.62L107.26 252.79L107.06 253.96L106.88 255.13L106.69 256.30L106.52 257.47L106.35 258.64L106.19 259.81L106.04 260.98L105.89 262.15L105.75 263.32L105.62 264.49L105.49 265.66L105.37 266.84L105.26 268.01L105.15 269.18L105.05 270.35L104.95 271.53L104.86 272.70L104.78 273.87L104.70 275.04L104.63 276.22L104.56 277.39L104.50 278.56L104.45 279.73L104.40 280.90L104.35 282.07L104.32 283.24L104.28 284.41L104.25 285.57L104.23 286.74L104.21 287.91L104.20 289.07L104.19 290.24L104.19 291.40L104.19 292.57L104.20 293.73L104.21 294.89L104.22 296.06L104.24 297.22L104.27 298.38L104.29 299.53L104.33 300.69L104.36 301.85L104.40 303.00L104.45 304.16L104.49 305.31L104.55 306.47L104.60 307.62L104.66 308.77L104.72 309.92L104.79 311.07L104.86 312.21L104.93 313.36L105.00 314.51L105.08 315.65L105.16 316.79L105.25 317.93L105.33 319.08L105.42 320.22L105.51 321.36L105.61 322.49L105.71 323.63L105.81 324.77L105.91 325.90L106.01 327.04L106.12 328.17L106.23 329.30Z" stroke="#0000ff"/>
<path d="M318.14 329.30L317.77 329.79L317.40 330.28L317.03 330.78L316.67 331.28L316.31 331.78L315.96 332.29L315.61 332.80L315.26 333.31L314.91 333.82L314.57 334.34L314.24 334.86L313.90 335.39L313.57 335.91L313.25 336.44L312.93 336.97L312.61 337.51L312.29 338.05L311.98 338.59L311.67 339.13L311.37 339.68L311.07 340.23L310.78 340.78L310.48 341.34L310.20 341.89L309.91 342.45L309.63 343.02L309.36 343.58L309.08 344.15L308.82 344.72L308.55 345.29L308.29 345.87L308.04 346.44L307.78 347.02L307.54 347.61L307.29 348.19L307.05 348.78L306.82 349.37L306.58 349.96L306.36 350.55L306.13 351.15L305.91 351.74L305.70 352.34L305.49 352.94L305.28 353.55L305.08 354.15L304.88 354.76L304.68 355.37L304.49 355.98L304.31 356.60L304.12 357.21L303.95 357.83L303.77 358.45L303.60 359.07L303.44 359.69L303.28 360.31L303.12 360.94L302.97 361.57L302.82 362.20L302.68 362.83L302.54 363.46L302.40 364.09L302.27 364.73L302.14 365.37L302.02 366.00L301.90 366.64L301.79 367.29L301.68 367.93L301.57 368.57L301.47 369.22L301.38 369.86L301.28 370.51L301.19 371.16L301.11 371.81L301.03 372.46L300.96 373.11L300.89 373.77L300.82 374.42L300.76 375.08L300.70 375.73L300.65 376.39L300.60 377.05L300.55 377.71L300.51 378.37L300.47 379.03L300.44 379.69L300.42 380.35L300.39 381.02L300.37 381.68L300.36 382.35L300.35 383.01L300.34 383.68L300.34 384.35L300.34 385.02L300.35 385.68L300.36 386.35L300.38 387.02L300.40 387.69L300.42 388.36L300.45 389.03L300.49 389.70L300.52 390.38L300.57 391.05L300.61 391.72L300.66 392.39L300.72 393.07L300.78 393.74L300.84 394.41L300.91 395.09L300.98 395.76L301.06 396.44L301.14 397.11L301.22 397.78L301.31 398.46L301.41 399.13L301.50 399.81L301.61 400.48L301.71 401.16L301.83 401.83L301.94 402.51L302.06 403.18L302.18 403.85L302.31 404.53L302.45 405.20L302.58 405.88L302.72 406.55L302.87 407.22L303.02 407.89L303.17 408.57L303.33 409.24L303.49 409.91L303.66 410.58L303.83 411.25L304.01 411.92L304.19 412.59L304.37 413.26L304.56 413.93L304.75 414.60L304.95 415.26L305.15 415.93L305.35 416.60L305.56 417.26L305.77 417.93L305.99 418.59L306.21 419.25L306.44 419.92L306.67 420.58L306.90 421.24L307.14 421.90L307.38 422.56L307.63 423.21L307.88 423.87L308.14 424.53L308.40 425.18L308.66 425.84L308.93 426.49L309.20 427.14L309.48 427.79L309.76 428.44L310.04 429.09L310.33 429.74L310.62 430.38L310.92 431.03L311.22 431.67L311.52 432.31L311.83 432.95L312.14 433.59L312.46 434.23L312.78 434.86L313.11 435.50L313.44 436.13L313.77 436.76L314.11 437.39L314.45 438.02L314.79 438.65L315.14 439.27L315.50 439.90L315.85 440.52L316.21 441.14L316.58 441.76L316.95 442.37L317.32 442.99L317.70 443.60L318.08 444.21L318.46 444.82L318.85 445.43L319.25 446.03L319.64 446.64L320.04 447.24L320.45 447.84L320.85 448.43L321.27 449.03L321.68 449.62L322.10 450.21L322.52 450.80L322.95 451.39L323.38 451.97L323.82 452.55L324.26 453.13L324.70 453.71L325.14 454.29L325.59 454.86L326.05 455.43L326.50 456.00L326.97 456.56L327.43 457.12L327.90 457.68L328.37 458.24L328.85 458.80L329.32 459.35L329.81 459.90L330.29 460.45L330.78 460.99L331.28 461.53L331.77 462.07L332.27 462.61L332.78 463.14L333.28 463.67L333.79 464.20L334.31 464.73L334.83 465.25L335.35 465.77L335.87 466.28L336.40 466.80L336.93 467.31L337.47 467.81L338.00 468.32L338.55 468.82L339.09 469.32L339.64 469.81L340.19 470.30L340.74 470.79L341.30 471.28L341.86 471.76L342.43 472.24L342.99 472.71L343.56 473.18L344.14 473.65L344.71 474.12L345.29 474.58L345.87 475.04L346.46 475.49L347.05 475.95L347.64 476.39L348.23 476.84L348.83 477.28L349.43 477.72L350.03 478.15L350.64 478.58L351.25 479.01L351.86 479.43L352.47 479.85L353.09 480.27L353.71 480.68L354.33 481.09L354.96 481.49L355.59 481.90L356.22 482.29L356.85 482.69L357.49 483.08L358.13 483.46L358.77 483.84L359.41 484.22L360.06 484.60L360.71 484.97L361.36 485.33L362.01 485.70L362.67 486.05L363.32 486.41L363.98 486.76L364.65 487.11L365.31 487.45L365.98 487.79L366.65 488.12L367.32 488.45L367.99 488.78L368.67 489.10L369.35 489.42L370.03 489.73L370.71 490.04L371.39 490.35L372.08 490.65L372.77 490.95L373.46 491.24L374.15 491.53L374.84 491.81L375.54 492.10L376.24 492.37L376.94 492.64L377.64 492.91L378.34 493.17L379.04 493.43L379.75 493.69L380.46 493.94L381.17 494.19L381.88 494.43L382.59 494.67L383.31 494.90L384.02 495.13L384.74 495.35L385.46 495.57L386.18 495.79L386.90 496.00L387.62 496.21L388.34 496.41L389.07 496.61L389.79 496.80L390.52 496.99L391.25 497.18L391.98 497.36L392.71 497.54L393.44 497.71L394.17 497.88L394.91 498.04L395.64 498.20L396.38 498.36L397.12 498.51L397.85 498.65L398.59 498.79L399.33 498.93L400.07 499.06L400.81 499.19L401.55 499.32L402.30 499.44L403.04 499.55L403.78 499.66L404.53 499.77L405.27 499.87L406.02 499.97L406.76 500.06L407.51 500.15L408.26 500.23L409.01 500.31L409.75 500.39L410.50 500.46L411.25 500.53L412.00 500.59L412.75 500.65L413.50 500.70L414.25 500.75L415.00 500.80L415.75 500.84L416.50 500.88L417.25 500.91L418.00 500.94L418.75 500.96L419.50 500.98L420.25 501.00L421.00 501.01L421.75 501.01L422.50 501.02L423.25 501.02L424.00 501.01L424.76 501.00L425.51 500.99L426.25 500.97L427.00 500.94L427.75 500.92L428.50 500.89L429.25 500.85L430.00 500.81L430.75 500.77L431.50 500.72L432.24 500.67L432.99 500.62L433.74 500.56L434.48 500.49L435.23 500.43L435.97 500.35L436.72 500.28L437.46 500.20L438.20 500.12L438.95 500.03L439.69 499.94L440.43 499.84L441.17 499.74L441.91 499.64L442.65 499.53L443.39 499.42L444.12 499.31L444.86 499.19L445.60 499.06L446.33 498.94L447.07 498.81L447.80 498.67L448.53 498.54L449.26 498.39L449.99 498.25L450.72 498.10L451.45 497.95L452.18 497.79L452.90 497.63L453.63 497.47L454.35 497.30L455.08 497.13L455.80 496.96L456.52 496.78L457.24 496.60L457.96 496.41L458.68 496.22L459.39 496.03L460.11 495.83L460.82 495.63L461.54 495.43L462.25 495.23L462.96 495.02L463.67 494.80L464.37 494.59L465.08 494.37L465.78 494.14L466.49 493.92L467.19 493.69L467.89 493.46L468.59 493.22L469.29 492.98L469.99 492.74L470.68 492.49L471.37 492.24L472.07 491.99L472.76 491.73L473.45 491.47L474.13 491.21L474.82 490.95L475.50 490.68L476.19 490.41L476.87 490.13L477.55 489.86L478.23 489.58L478.91 489.29L479.58 489.01L480.25 488.72L480.93 488.42L481.60 488.13L482.27 487.83L482.93 487.53L483.60 487.22L484.26 486.92L484.92 486.61L485.58 486.29L486.24 485.98L486.90 485.66L487.55 485.34L488.21 485.01L488.86 484.69L489.51 484.36L490.16 484.02L490.80 483.69L491.45 483.35L492.09 483.01L492.73 482.67L493.37 482.32L494.01 481.97L494.64 481.62L495.28 481.27L495.91 480.91L496.54 480.55L497.17 480.19L497.79 479.83L498.42 479.46L499.04 479.09L499.66 478.72L500.28 478.34L500.90 477.97L501.51 477.59L502.12 477.20L502.74 476.82L503.34 476.43L503.95 476.04L504.56 475.65L505.16 475.26L505.76 474.86L506.36 474.46L506.96 474.06L507.55 473.66L508.15 473.25L508.74 472.85L509.33 472.44L509.91 472.02L510.50 471.61L511.08 471.19L511.66 470.77L512.24 470.35L512.82 469.93L513.39 469.50L513.97 469.07L514.54 468.64L515.11 468.21L515.67 467.77L516.24 467.34L516.80 466.90L517.36 466.46L517.92 466.01L518.48 465.57L519.03 465.12L519.58 464.67L520.13 464.22L520.68 463.77L521.23 463.31L521.77 462.85L522.31 462.39L522.85 461.93L523.39 461.47L523.92 461.00L524.46 460.53L524.99 460.06L525.52 459.59L526.04 459.12L526.57 458.64L527.09 458.17L527.61 457.69L528.13 457.21L528.64 456.72L529.16 456.24L529.67 455.75L530.18 455.26L530.68 454.77L531.19 454.28L531.69 453.78L532.19 453.29L532.69 452.79L533.18 452.29L533.68 451.79L534.17 451.29L534.66 450.78L535.14 450.27L535.63 449.77L536.11 449.26L536.59 448.74L537.06 448.23L537.54 447.71L538.01 447.20L538.48 446.68L538.95 446.16L539.42 445.64L539.88 445.11L540.34 444.59L540.80 444.06L541.26 443.53L541.71 443.00L542.17 442.47L542.61 441.94L543.06 441.40L543.51 440.86L543.95 440.33L544.39 439.79L544.83 439.25L545.26 438.70L545.70 438.16L546.13 437.61L546.56 437.07L546.98 436.52L547.41 435.97L547.83 435.41L548.25 434.86L548.66 434.31L549.08 433.75L549.49 433.19L549.90 432.63L550.31 432.07L550.71 431.51L551.11 430.95L551.51 430.38L551.91 429.82L552.31 429.25L552.70 428.68L553.09 428.11L553.48 427.54L553.86 426.96L554.25 426.39L554.63 425.81L555.01 425.24L555.38 424.66L555.75 424.08L556.12 423.50L556.49 422.92L556.86 422.33L557.22 421.75L557.58 421.16L557.94 420.58L558.30 419.99L558.65 419.40L559.00 418.81L559.35 418.22L559.70 417.62L560.04 417.03L560.38 416.43L560.72 415.84L561.06 415.24L561.39 414.64L561.72 414.04L562.05 413.44L562.38 412.84L562.70 412.24L563.02 411.63L563.34 411.03L563.65 410.42L563.97 409.81L564.28 409.20L564.59 408.59L564.89 407.98L565.20 407.37L565.50 406.76L565.80 406.14L566.09 405.53L566.39 404.91L566.68 404.30L566.97 403.68L567.25 403.06L567.53 402.44L567.82 401.82L568.09 401.20L568.37 400.58L568.64 399.96L568.91 399.33L569.18 398.71L569.45 398.08L569.71 397.45L569.97 396.83L570.23 396.20L570.48 395.57L570.74 394.94L570.99 394.31L571.24 393.68L571.48 393.04L571.72 392.41L571.96 391.78L572.20 391.14L572.44 390.51L572.67 389.87L572.90 389.23L573.13 388.60L573.35 387.96L573.57 387.32L573.79 386.68L574.01 386.04L574.23 385.40L574.44 384.76L574.65 384.11L574.86 383.47L575.06 382.83L575.26 382.18L575.46 381.54L575.66 380.89L575.85 380.24L576.05 379.60L576.24 378.95L576.42 378.30L576.61 377.65L576.79 377.00L576.97 376.35L577.14 375.70L577.32 375.05L577.49 374.40L577.66 373.75L577.83 373.10L577.99 372.44L578.15 371.79L578.31 371.14L578.47 370.48L578.62 369.83L578.77 369.17L578.92 368.52L579.07 367.86L579.21 367.20L579.35 366.54L579.49 365.89L579.63 365.23L579.76 364.57L579.89 363.91L580.02 363.25L580.15 362.59L580.27 361.93L580.39 361.27L580.51 360.61L580.63 359.95L580.74 359.29L580.85 358.63L580.96 357.97L581.07 357.30L581.17 356.64L581.27 355.98L581.37 355.32L581.47 354.65L581.56 353.99L581.65 353.32L581.74 352.66L581.83 351.99L581.91 351.33L581.99 350.66L582.07 350.00L582.14 349.33L582.22 348.67L582.29 348.00L582.36 347.34L582.42 346.67L582.49 346.00L582.55 345.34L582.61 344.67L582.66 344.00L582.72 343.34L582.77 342.67L582.82 342.00L582.86 341.33L582.90 340.66L582.95 340.00L582.98 339.33L583.02 338.66L583.05 337.99L583.09 337.32L583.11 336.66L583.14 335.99L583.16 335.32L583.18 334.65L583.20 333.98L583.22 333.31L583.23 332.64L583.24 331.98L583.25 331.31L583.26 330.64L583.26 329.97L583.26 329.30L583.26 328.63L583.26 327.96L583.25 327.29L583.24 326.62L583.23 325.96L583.22 325.29L583.20 324.62L583.18 323.95L583.16 323.28L583.14 322.61L583.11 321.94L583.09 321.28L583.05 320.61L583.02 319.94L582.98 319.27L582.95 318.60L582.90 317.94L582.86 317.27L582.82 316.60L582.77 315.93L582.72 315.26L582.66 314.60L582.61 313.93L582.55 313.26L582.49 312.60L582.42 311.93L582.36 311.26L582.29 310.60L582.22 309.93L582.14 309.27L582.07 308.60L581.99 307.94L581.91 307.27L581.83 306.61L581.74 305.94L581.65 305.28L581.56 304.61L581.47 303.95L581.37 303.28L581.27 302.62L581.17 301.96L581.07 301.30L580.96 300.63L580.85 299.97L580.74 299.31L580.63 298.65L580.51 297.99L580.39 297.33L580.27 296.67L580.15 296.01L580.02 295.35L579.89 294.69L579.76 294.03L579.63 293.37L579.49 292.71L579.35 292.06L579.21 291.40L579.07 290.74L578.92 290.08L578.77 289.43L578.62 288.77L578.47 288.12L578.31 287.46L578.15 286.81L577.99 286.16L577.83 285.50L577.66 284.85L577.49 284.20L577.32 283.55L577.14 282.90L576.97 282.25L576.79 281.60L576.61 280.95L576.42 280.30L576.24 279.65L576.05 279.00L575.85 278.36L575.66 277.71L575.46 277.06L575.26 276.42L575.06 275.77L574.86 275.13L574.65 274.49L574.44 273.84L574.23 273.20L574.01 272.56L573.79 271.92L573.57 271.28L573.35 270.64L573.13 270.00L572.90 269.37L572.67 268.73L572.44 268.09L572.20 267.46L571.96 266.82L571.72 266.19L571.48 265.56L571.24 264.92L570.99 264.29L570.74 263.66L570.48 263.03L570.23 262.40L569.97 261.77L569.71 261.15L569.45 260.52L569.18 259.89L568.91 259.27L568.64 258.64L568.37 258.02L568.09 257.40L567.82 256.78L567.53 256.16L567.25 255.54L566.97 254.92L566.68 254.30L566.39 253.69L566.09 253.07L565.80 252.46L565.50 251.84L565.20 251.23L564.89 250.62L564.59 250.01L564.28 249.40L563.97 248.79L563.65 248.18L563.34 247.57L563.02 246.97L562.70 246.36L562.38 245.76L562.05 245.16L561.72 244.56L561.39 243.96L561.06 243.36L560.72 242.76L560.38 242.17L560.04 241.57L559.70 240.98L559.35 240.38L559.00 239.79L558.65 239.20L558.30 238.61L557.94 238.02L557.58 237.44L557.22 236.85L556.86 236.27L556.49 235.68L556.12 235.10L555.75 234.52L555.38 233.94L555.01 233.36L554.63 232.79L554.25 232.21L553.86 231.64L553.48 231.06L553.09 230.49L552.70 229.92L552.31 229.35L551.91 228.78L551.51 228.22L551.11 227.65L550.71 227.09L550.31 226.53L549.90 225.97L549.49 225.41L549.08 224.85L548.66 224.29L548.25 223.74L547.83 223.19L547.41 222.63L546.98 222.08L546.56 221.53L546.13 220.99L545.70 220.44L545.26 219.90L544.83 219.35L544.39 218.81L543.95 218.27L543.51 217.74L543.06 217.20L542.61 216.66L542.17 216.13L541.71 215.60L541.26 215.07L540.80 214.54L540.34 214.01L539.88 213.49L539.42 212.96L538.95 212.44L538.48 211.92L538.01 211.40L537.54 210.89L537.06 210.37L536.59 209.86L536.11 209.34L535.63 208.83L535.14 208.33L534.66 207.82L534.17 207.31L533.68 206.81L533.18 206.31L532.69 205.81L532.19 205.31L531.69 204.82L531.19 204.32L530.68 203.83L530.18 203.34L529.67 202.85L529.16 202.36L528.64 201.88L528.13 201.39L527.61 200.91L527.09 200.43L526.57 199.96L526.04 199.48L525.52 199.01L524.99 198.54L524.46 198.07L523.92 197.60L523.39 197.13L522.85 196.67L522.31 196.21L521.77 195.75L521.23 195.29L520.68 194.83L520.13 194.38L519.58 193.93L519.03 193.48L518.48 193.03L517.92 192.59L517.36 192.14L516.80 191.70L516.24 191.26L515.67 190.83L515.11 190.39L514.54 189.96L513.97 189.53L513.39 189.10L512.82 188.67L512.24 188.25L511.66 187.83L511.08 187.41L510.50 186.99L509.91 186.58L509.33 186.16L508.74 185.75L508.15 185.35L507.55 184.94L506.96 184.54L506.36 184.14L505.76 183.74L505.16 183.34L504.56 182.95L503.95 182.56L503.34 182.17L502.74 181.78L502.12 181.40L501.51 181.01L500.90 180.63L500.28 180.26L499.66 179.88L499.04 179.51L498.42 179.14L497.79 178.77L497.17 178.41L496.54 178.05L495.91 177.69L495.28 177.33L494.64 176.98L494.01 176.63L493.37 176.28L492.73 175.93L492.09 175.59L491.45 175.25L490.80 174.91L490.16 174.58L489.51 174.24L488.86 173.91L488.21 173.59L487.55 173.26L486.90 172.94L486.24 172.62L485.58 172.31L484.92 171.99L484.26 171.68L483.60 171.38L482.93 171.07L482.27 170.77L481.60 170.47L480.93 170.18L480.25 169.88L479.58 169.59L478.91 169.31L478.23 169.02L477.55 168.74L476.87 168.47L476.19 168.19L475.50 167.92L474.82 167.65L474.13 167.39L473.45 167.13L472.76 166.87L472.07 166.61L471.37 166.36L470.68 166.11L469.99 165.86L469.29 165.62L468.59 165.38L467.89 165.14L467.19 164.91L466.49 164.68L465.78 164.46L465.08 164.23L464.37 164.01L463.67 163.80L462.96 163.58L462.25 163.37L461.54 163.17L460.82 162.97L460.11 162.77L459.39 162.57L458.68 162.38L457.96 162.19L457.24 162.00L456.52 161.82L455.80 161.64L455.08 161.47L454.35 161.30L453.63 161.13L452.90 160.97L452.18 160.81L451.45 160.65L450.72 160.50L449.99 160.35L449.26 160.21L448.53 160.06L447.80 159.93L447.07 159.79L446.33 159.66L445.60 159.54L444.86 159.41L444.12 159.29L443.39 159.18L442.65 159.07L441.91 158.96L441.17 158.86L440.43 158.76L439.69 158.66L438.95 158.57L438.20 158.48L437.46 158.40L436.72 158.32L435.97 158.25L435.23 158.17L434.48 158.11L433.74 158.04L432.99 157.98L432.24 157.93L431.50 157.88L430.75 157.83L430.00 157.79L429.25 157.75L428.50 157.71L427.75 157.68L427.00 157.66L426.25 157.63L425.51 157.61L424.76 157.60L424.00 157.59L423.25 157.58L422.50 157.58L421.75 157.59L421.00 157.59L420.25 157.60L419.50 157.62L418.75 157.64L418.00 157.66L417.25 157.69L416.50 157.72L415.75 157.76L415.00 157.80L414.25 157.85L413.50 157.90L412.75 157.95L412.00 158.01L411.25 158.07L410.50 158.14L409.75 158.21L409.01 158.29L408.26 158.37L407.51 158.45L406.76 158.54L406.02 158.63L405.27 158.73L404.53 158.83L403.78 158.94L403.04 159.05L402.30 159.16L401.55 159.28L400.81 159.41L400.07 159.54L399.33 159.67L398.59 159.81L397.85 159.95L397.12 160.09L396.38 160.24L395.64 160.40L394.91 160.56L394.17 160.72L393.44 160.89L392.71 161.06L391.98 161.24L391.25 161.42L390.52 161.61L389.79 161.80L389.07 161.99L388.34 162.19L387.62 162.39L386.90 162.60L386.18 162.81L385.46 163.03L384.74 163.25L384.02 163.47L383.31 163.70L382.59 163.93L381.88 164.17L381.17 164.41L380.46 164.66L379.75 164.91L379.04 165.17L378.34 165.43L377.64 165.69L376.94 165.96L376.24 166.23L375.54 166.50L374.84 166.79L374.15 167.07L373.46 167.36L372.77 167.65L372.08 167.95L371.39 168.25L370.71 168.56L370.03 168.87L369.35 169.18L368.67 169.50L367.99 169.82L367.32 170.15L366.65 170.48L365.98 170.81L365.31 171.15L364.65 171.49L363.98 171.84L363.32 172.19L362.67 172.55L362.01 172.90L361.36 173.27L360.71 173.63L360.06 174.00L359.41 174.38L358.77 174.76L358.13 175.14L357.49 175.52L356.85 175.91L356.22 176.31L355.59 176.70L354.96 177.11L354.33 177.51L353.71 177.92L353.09 178.33L352.47 178.75L351.86 179.17L351.25 179.59L350.64 180.02L350.03 180.45L349.43 180.88L348.83 181.32L348.23 181.76L347.64 182.21L347.05 182.65L346.46 183.11L345.87 183.56L345.29 184.02L344.71 184.48L344.14 184.95L343.56 185.42L342.99 185.89L342.43 186.36L341.86 186.84L341.30 187.32L340.74 187.81L340.19 188.30L339.64 188.79L339.09 189.28L338.55 189.78L338.00 190.28L337.47 190.79L336.93 191.29L336.40 191.80L335.87 192.32L335.35 192.83L334.83 193.35L334.31 193.87L333.79 194.40L333.28 194.93L332.78 195.46L332.27 195.99L331.77 196.53L331.28 197.07L330.78 197.61L330.29 198.15L329.81 198.70L329.32 199.25L328.85 199.80L328.37 200.36L327.90 200.92L327.43 201.48L326.97 202.04L326.50 202.60L326.05 203.17L325.59 203.74L325.14 204.31L324.70 204.89L324.26 205.47L323.82 206.05L323.38 206.63L322.95 207.21L322.52 207.80L322.10 208.39L321.68 208.98L321.27 209.57L320.85 210.17L320.45 210.76L320.04 211.36L319.64 211.96L319.25 212.57L318.85 213.17L318.46 213.78L318.08 214.39L317.70 215.00L317.32 215.61L316.95 216.23L316.58 216.84L316.21 217.46L315.85 218.08L315.50 218.70L315.14 219.33L314.79 219.95L314.45 220.58L314.11 221.21L313.77 221.84L313.44 222.47L313.11 223.10L312.78 223.74L312.46 224.37L312.14 225.01L311.83 225.65L311.52 226.29L311.22 226.93L310.92 227.57L310.62 228.22L310.33 228.86L310.04 229.51L309.76 230.16L309.48 230.81L309.20 231.46L308.93 232.11L308.66 232.76L308.40 233.42L308.14 234.07L307.88 234.73L307.63 235.39L307.38 236.04L307.14 236.70L306.90 237.36L306.67 238.02L306.44 238.68L306.21 239.35L305.99 240.01L305.77 240.67L305.56 241.34L305.35 242.00L305.15 242.67L304.95 243.34L304.75 244.00L304.56 244.67L304.37 245.34L304.19 246.01L304.01 246.68L303.83 247.35L303.66 248.02L303.49 248.69L303.33 249.36L303.17 250.03L303.02 250.71L302.87 251.38L302.72 252.05L302.58 252.72L302.45 253.40L302.31 254.07L302.18 254.75L302.06 255.42L301.94 256.09L301.83 256.77L301.71 257.44L301.61 258.12L301.50 258.79L301.41 259.47L301.31 260.14L301.22 260.82L301.14 261.49L301.06 262.16L300.98 262.84L300.91 263.51L300.84 264.19L300.78 264.86L300.72 265.53L300.66 266.21L300.61 266.88L300.57 267.55L300.52 268.22L300.49 268.90L300.45 269.57L300.42 270.24L300.40 270.91L300.38 271.58L300.36 272.25L300.35 272.92L300.34 273.58L300.34 274.25L300.34 274.92L300.35 275.59L300.36 276.25L300.37 276.92L300.39 277.58L300.42 278.25L300.44 278.91L300.47 279.57L300.51 280.23L300.55 280.89L300.60 281.55L300.65 282.21L300.70 282.87L300.76 283.52L300.82 284.18L300.89 284.83L300.96 285.49L301.03 286.14L301.11 286.79L301.19 287.44L301.28 288.09L301.38 288.74L301.47 289.38L301.57 290.03L301.68 290.67L301.79 291.31L301.90 291.96L302.02 292.60L302.14 293.23L302.27 293.87L302.40 294.51L302.54 295.14L302.68 295.77L302.82 296.40L302.97 297.03L303.12 297.66L303.28 298.29L303.44 298.91L303.60 299.53L303.77 300.15L303.95 300.77L304.12 301.39L304.31 302.00L304.49 302.62L304.68 303.23L304.88 303.84L305.08 304.45L305.28 305.05L305.49 305.66L305.70 306.26L305.91 306.86L306.13 307.45L306.36 308.05L306.58 308.64L306.82 309.23L307.05 309.82L307.29 310.41L307.54 310.99L307.78 311.58L308.04 312.16L308.29 312.73L308.55 313.31L308.82 313.88L309.08 314.45L309.36 315.02L309.63 315.58L309.91 316.15L310.20 316.71L310.48 317.26L310.78 317.82L311.07 318.37L311.37 318.92L311.67 319.47L311.98 320.01L312.29 320.55L312.61 321.09L312.93 321.63L313.25 322.16L313.57 322.69L313.90 323.21L314.24 323.74L314.57 324.26L314.91 324.78L315.26 325.29L315.61 325.80L315.96 326.31L316.31 326.82L316.67 327.32L317.03 327.82L317.40 328.32L317.77 328.81L318.14 329.30ZM317.28 329.30L317.45 329.51L317.62 329.72L317.79 329.92L317.95 330.13L318.12 330.33L318.29 330.54L318.45 330.74L318.62 330.94L318.78 331.14L318.95 331.33L319.11 331.53L319.28 331.72L319.44 331.92L319.60 332.11L319.76 332.30L319.93 332.49L320.09 332.68L320.25 332.86L320.41 333.05L320.57 333.23L320.73 333.41L320.89 333.60L321.04 333.78L321.20 333.96L321.36 334.13L321.52 334.31L321.67 334.49L321.83 334.66L321.99 334.84L322.14 335.01L322.30 335.18L322.45 335.35L322.61 335.52L322.76 335.69L322.91 335.86L323.07 336.02L323.22 336.19L323.37 336.35L323.52 336.51L323.67 336.68L323.83 336.84L323.98 337.00L324.13 337.16L324.28 337.31L324.43 337.47L324.58 337.63L324.72 337.78L324.87 337.94L325.02 338.09L325.17 338.24L325.32 338.39L325.46 338.55L325.61 338.69L325.76 338.84L325.90 338.99L326.05 339.14L326.19 339.28L326.34 339.43L326.48 339.57L326.63 339.72L326.77 339.86L326.92 340.00L327.06 340.14L327.20 340.28L327.34 340.42L327.49 340.56L327.63 340.70L327.77 340.84L327.91 340.97L328.06 341.11L328.20 341.24L328.34 341.38L328.48 341.51L328.62 341.64L328.76 341.77L328.90 341.91L329.04 342.04L329.18 342.16L329.32 342.29L329.46 342.42L329.60 342.55L329.73 342.67L329.87 342.80L330.01 342.93L330.15 343.05L330.29 343.17L330.42 343.30L330.56 343.42L330.70 343.54L330.83 343.66L330.97 343.78L331.11 343.90L331.24 344.02L331.38 344.14L331.52 344.26L331.65 344.37L331.79 344.49L331.92 344.61L332.06 344.72L332.19 344.83L332.33 344.95L332.46 345.06L332.60 345.17L332.73 345.29L332.86 345.40L333.00 345.51L333.13 345.62L333.26 345.73L333.40 345.84L333.53 345.95L333.66 346.05L333.80 346.16L333.93 346.27L334.06 346.37L334.19 346.48L334.33 346.58L334.46 346.69L334.59 346.79L334.72 346.89L334.85 347.00L334.99 347.10L335.12 347.20L335.25 347.30L335.38 347.40L335.51 347.50L335.64 347.60L335.77 347.70L335.90 347.80L336.03 347.90L336.16 347.99L336.29 348.09L336.42 348.19L336.55 348.28L336.68 348.38L336.81 348.47L336.94 348.57L337.07 348.66L337.20 348.75L337.33 348.85L337.46 348.94L337.59 349.03L337.72 349.12L337.84 349.21L337.97 349.30L338.10 349.39L338.23 349.48L338.36 349.57L338.49 349.66L338.61 349.75L338.74 349.84L338.87 349.92L339.00 350.01L339.12 350.10L339.25 350.18L339.38 350.27L339.51 350.35L339.63 350.44L339.76 350.52L339.89 350.61L340.01 350.69L340.14 350.77L340.27 350.86L340.39 350.94L340.52 351.02L340.65 351.10L340.77 351.18L340.90 351.26L341.02 351.34L341.15 351.42L341.28 351.50L341.40 351.58L341.53 351.66L341.65 351.74L341.78 351.82L341.90 351.89L342.03 351.97L342.15 352.05L342.28 352.12L342.40 352.20L342.53 352.28L342.65 352.35L342.78 352.43L342.90 352.50L343.03 352.58L343.15 352.65L343.28 352.72L343.40 352.80L343.52 352.87L343.65 352.94L343.77 353.02L343.90 353.09L344.02 353.16L344.14 353.23L344.27 353.30L344.39 353.37L344.51 353.45L344.64 353.52L344.76 353.59L344.89 353.66L345.01 353.72L345.13 353.79L345.26 353.86L345.38 353.93L345.50 354.00L345.63 354.07L345.75 354.14L345.87 354.20L345.99 354.27L346.12 354.34L346.24 354.40L346.36 354.47L346.49 354.54L346.61 354.60L346.73 354.67L346.85 354.73L346.98 354.80L347.10 354.86L347.22 354.93L347.34 354.99L347.47 355.06L347.59 355.12L347.71 355.19L347.83 355.25L347.96 355.31L348.08 355.38L348.20 355.44L348.33 355.50L348.45 355.56L348.57 355.63L348.69 355.69L348.82 355.75L348.94 355.81L349.06 355.87L349.18 355.93L349.31 355.99L349.43 356.05L349.55 356.11L349.67 356.17L349.80 356.23L349.92 356.29L350.04 356.35L350.16 356.41L350.29 356.47L350.41 356.53L350.53 356.59L350.65 356.65L350.78 356.71L350.90 356.76L351.02 356.82L351.15 356.88L351.27 356.94L351.39 356.99L351.52 357.05L351.64 357.11L351.76 357.16L351.89 357.22L352.01 357.28L352.13 357.33L352.26 357.39L352.38 357.44L352.50 357.50L352.63 357.55L352.75 357.61L352.87 357.66L353.00 357.72L353.12 357.77L353.25 357.82L353.37 357.88L353.50 357.93L353.62 357.98L353.75 358.04L353.87 358.09L353.99 358.14L354.12 358.20L354.24 358.25L354.37 358.30L354.50 358.35L354.62 358.40L354.75 358.45L354.87 358.51L355.00 358.56L355.12 358.61L355.25 358.66L355.38 358.71L355.50 358.76L355.63 358.81L355.76 358.86L355.88 358.91L356.01 358.95L356.14 359.00L356.26 359.05L356.39 359.10L356.52 359.15L356.65 359.20L356.77 359.24L356.90 359.29L357.03 359.34L357.16 359.38L357.29 359.43L357.42 359.48L357.54 359.52L357.67 359.57L357.80 359.61L357.93 359.66L358.06 359.70L358.19 359.75L358.32 359.79L358.45 359.84L358.58 359.88L358.71 359.92L358.84 359.97L358.97 360.01L359.10 360.05L359.24 360.09L359.37 360.14L359.50 360.18L359.63 360.22L359.76 360.26L359.89 360.30L360.03 360.34L360.16 360.38L360.29 360.42L360.43 360.46L360.56 360.50L360.69 360.54L360.83 360.58L360.96 360.62L361.09 360.66L361.23 360.69L361.36 360.73L361.50 360.77L361.63 360.80L361.77 360.84L361.90 360.88L362.04 360.91L362.17 360.95L362.31 360.98L362.45 361.02L362.58 361.05L362.72 361.08L362.86 361.12L362.99 361.15L363.13 361.18L363.27 361.22L363.41 361.25L363.54 361.28L363.68 361.31L363.82 361.34L363.96 361.37L364.10 361.40L364.24 361.43L364.38 361.46L364.52 361.49L364.66 361.52L364.80 361.55L364.94 361.58L365.08 361.60L365.22 361.63L365.36 361.66L365.50 361.68L365.64 361.71L365.78 361.73L365.92 361.76L366.07 361.78L366.21 361.81L366.35 361.83L366.49 361.85L366.64 361.88L366.78 361.90L366.92 361.92L367.07 361.94L367.21 361.96L367.36 361.98L367.50 362.00L367.64 362.02L367.79 362.04L367.93 362.06L368.08 362.08L368.22 362.10L368.37 362.12L368.52 362.13L368.66 362.15L368.81 362.17L368.96 362.18L369.10 362.20L369.25 362.21L369.40 362.23L369.54 362.24L369.69 362.25L369.84 362.27L369.99 362.28L370.14 362.29L370.28 362.30L370.43 362.31L370.58 362.32L370.73 362.33L370.88 362.34L371.03 362.35L371.18 362.36L371.33 362.37L371.48 362.37L371.63 362.38L371.78 362.39L371.93 362.39L372.08 362.40L372.23 362.40L372.39 362.41L372.54 362.41L372.69 362.42L372.84 362.42L372.99 362.42L373.15 362.42L373.30 362.43L373.45 362.43L373.60 362.43L373.76 362.43L373.91 362.43L374.07 362.43L374.22 362.42L374.37 362.42L374.53 362.42L374.68 362.42L374.84 362.41L374.99 362.41L375.15 362.40L375.30 362.40L375.46 362.39L375.61 362.39L375.77 362.38L375.93 362.37L376.08 362.36L376.24 362.35L376.39 362.34L376.55 362.34L376.71 362.32L376.87 362.31L377.02 362.30L377.18 362.29L377.34 362.28L377.50 362.27L377.65 362.25L377.81 362.24L377.97 362.22L378.13 362.21L378.29 362.19L378.45 362.18L378.61 362.16L378.77 362.14L378.93 362.12L379.09 362.10L379.25 362.09L379.41 362.07L379.57 362.04L379.73 362.02L379.89 362.00L380.05 361.98L380.21 361.96L380.37 361.93L380.53 361.91L380.69 361.89L380.85 361.86L381.02 361.83L381.18 361.81L381.34 361.78L381.50 361.75L381.66 361.73L381.83 361.70L381.99 361.67L382.15 361.64L382.31 361.61L382.48 361.58L382.64 361.54L382.80 361.51L382.97 361.48L383.13 361.44L383.30 361.41L383.46 361.38L383.62 361.34L383.79 361.30L383.95 361.27L384.12 361.23L384.28 361.19L384.45 361.15L384.61 361.11L384.78 361.07L384.94 361.03L385.11 360.99L385.27 360.95L385.44 360.91L385.60 360.86L385.77 360.82L385.94 360.77L386.10 360.73L386.27 360.68L386.43 360.64L386.60 360.59L386.77 360.54L386.93 360.49L387.10 360.44L387.27 360.39L387.43 360.34L387.60 360.29L387.77 360.24L387.93 360.18L388.10 360.13L388.27 360.07L388.44 360.02L388.60 359.96L388.77 359.91L388.94 359.85L389.10 359.79L389.27 359.73L389.44 359.67L389.61 359.61L389.77 359.55L389.94 359.49L390.11 359.43L390.28 359.36L390.45 359.30L390.61 359.23L390.78 359.17L390.95 359.10L391.12 359.04L391.28 358.97L391.45 358.90L391.62 358.83L391.79 358.76L391.96 358.69L392.12 358.62L392.29 358.54L392.46 358.47L392.63 358.40L392.79 358.32L392.96 358.24L393.13 358.17L393.30 358.09L393.46 358.01L393.63 357.93L393.80 357.85L393.97 357.77L394.13 357.69L394.30 357.61L394.47 357.52L394.63 357.44L394.80 357.35L394.97 357.27L395.13 357.18L395.30 357.09L395.46 357.00L395.63 356.91L395.80 356.82L395.96 356.73L396.13 356.64L396.29 356.55L396.46 356.45L396.62 356.36L396.79 356.26L396.95 356.17L397.12 356.07L397.28 355.97L397.44 355.87L397.61 355.77L397.77 355.67L397.93 355.57L398.10 355.47L398.26 355.36L398.42 355.26L398.58 355.15L398.74 355.04L398.90 354.94L399.07 354.83L399.23 354.72L399.39 354.61L399.55 354.50L399.71 354.39L399.86 354.27L400.02 354.16L400.18 354.04L400.34 353.93L400.50 353.81L400.65 353.69L400.81 353.57L400.97 353.45L401.12 353.33L401.28 353.21L401.43 353.09L401.59 352.97L401.74 352.84L401.90 352.72L402.05 352.59L402.20 352.46L402.35 352.33L402.50 352.20L402.66 352.07L402.81 351.94L402.96 351.81L403.10 351.68L403.25 351.54L403.40 351.41L403.55 351.27L403.70 351.13L403.84 351.00L403.99 350.86L404.13 350.72L404.28 350.58L404.42 350.44L404.56 350.29L404.70 350.15L404.84 350.00L404.99 349.86L405.13 349.71L405.26 349.56L405.40 349.42L405.54 349.27L405.68 349.12L405.81 348.97L405.95 348.81L406.08 348.66L406.22 348.51L406.35 348.35L406.48 348.20L406.61 348.04L406.74 347.88L406.87 347.72L407.00 347.56L407.13 347.40L407.25 347.24L407.38 347.08L407.50 346.92L407.63 346.75L407.75 346.59L407.87 346.42L407.99 346.26L408.11 346.09L408.23 345.92L408.35 345.75L408.46 345.58L408.58 345.41L408.69 345.24L408.81 345.07L408.92 344.89L409.03 344.72L409.14 344.54L409.25 344.37L409.36 344.19L409.47 344.01L409.57 343.84L409.68 343.66L409.78 343.48L409.88 343.30L409.98 343.11L410.08 342.93L410.18 342.75L410.28 342.57L410.37 342.38L410.47 342.20L410.56 342.01L410.65 341.82L410.75 341.64L410.84 341.45L410.92 341.26L411.01 341.07L411.10 340.88L411.18 340.69L411.27 340.50L411.35 340.31L411.43 340.12L411.51 339.92L411.59 339.73L411.66 339.54L411.74 339.34L411.81 339.15L411.88 338.95L411.95 338.75L412.02 338.56L412.09 338.36L412.16 338.16L412.22 337.96L412.29 337.76L412.35 337.56L412.41 337.36L412.47 337.16L412.53 336.96L412.59 336.76L412.64 336.56L412.70 336.35L412.75 336.15L412.80 335.95L412.85 335.74L412.90 335.54L412.94 335.34L412.99 335.13L413.03 334.93L413.07 334.72L413.11 334.52L413.15 334.31L413.19 334.10L413.22 333.90L413.26 333.69L413.29 333.48L413.32 333.27L413.35 333.07L413.38 332.86L413.40 332.65L413.43 332.44L413.45 332.23L413.47 332.02L413.49 331.82L413.51 331.61L413.53 331.40L413.54 331.19L413.55 330.98L413.57 330.77L413.58 330.56L413.59 330.35L413.59 330.14L413.60 329.93L413.60 329.72L413.60 329.51L413.61 329.30L413.60 329.09L413.60 328.88L413.60 328.67L413.59 328.46L413.59 328.25L413.58 328.04L413.57 327.83L413.55 327.62L413.54 327.41L413.53 327.20L413.51 326.99L413.49 326.78L413.47 326.58L413.45 326.37L413.43 326.16L413.40 325.95L413.38 325.74L413.35 325.53L413.32 325.33L413.29 325.12L413.26 324.91L413.22 324.70L413.19 324.50L413.15 324.29L413.11 324.08L413.07 323.88L413.03 323.67L412.99 323.47L412.94 323.26L412.90 323.06L412.85 322.86L412.80 322.65L412.75 322.45L412.70 322.25L412.64 322.04L412.59 321.84L412.53 321.64L412.47 321.44L412.41 321.24L412.35 321.04L412.29 320.84L412.22 320.64L412.16 320.44L412.09 320.24L412.02 320.04L411.95 319.85L411.88 319.65L411.81 319.45L411.74 319.26L411.66 319.06L411.59 318.87L411.51 318.68L411.43 318.48L411.35 318.29L411.27 318.10L411.18 317.91L411.10 317.72L411.01 317.53L410.92 317.34L410.84 317.15L410.75 316.96L410.65 316.78L410.56 316.59L410.47 316.40L410.37 316.22L410.28 316.03L410.18 315.85L410.08 315.67L409.98 315.49L409.88 315.30L409.78 315.12L409.68 314.94L409.57 314.76L409.47 314.59L409.36 314.41L409.25 314.23L409.14 314.06L409.03 313.88L408.92 313.71L408.81 313.53L408.69 313.36L408.58 313.19L408.46 313.02L408.35 312.85L408.23 312.68L408.11 312.51L407.99 312.34L407.87 312.18L407.75 312.01L407.63 311.85L407.50 311.68L407.38 311.52L407.25 311.36L407.13 311.20L407.00 311.04L406.87 310.88L406.74 310.72L406.61 310.56L406.48 310.40L406.35 310.25L406.22 310.09L406.08 309.94L405.95 309.79L405.81 309.63L405.68 309.48L405.54 309.33L405.40 309.18L405.26 309.04L405.13 308.89L404.99 308.74L404.84 308.60L404.70 308.45L404.56 308.31L404.42 308.16L404.28 308.02L404.13 307.88L403.99 307.74L403.84 307.60L403.70 307.47L403.55 307.33L403.40 307.19L403.25 307.06L403.10 306.92L402.96 306.79L402.81 306.66L402.66 306.53L402.50 306.40L402.35 306.27L402.20 306.14L402.05 306.01L401.90 305.88L401.74 305.76L401.59 305.63L401.43 305.51L401.28 305.39L401.12 305.27L400.97 305.15L400.81 305.03L400.65 304.91L400.50 304.79L400.34 304.67L400.18 304.56L400.02 304.44L399.86 304.33L399.71 304.21L399.55 304.10L399.39 303.99L399.23 303.88L399.07 303.77L398.90 303.66L398.74 303.56L398.58 303.45L398.42 303.34L398.26 303.24L398.10 303.13L397.93 303.03L397.77 302.93L397.61 302.83L397.44 302.73L397.28 302.63L397.12 302.53L396.95 302.43L396.79 302.34L396.62 302.24L396.46 302.15L396.29 302.05L396.13 301.96L395.96 301.87L395.80 301.78L395.63 301.69L395.46 301.60L395.30 301.51L395.13 301.42L394.97 301.33L394.80 301.25L394.63 301.16L394.47 301.08L394.30 300.99L394.13 300.91L393.97 300.83L393.80 300.75L393.63 300.67L393.46 300.59L393.30 300.51L393.13 300.43L392.96 300.36L392.79 300.28L392.63 300.20L392.46 300.13L392.29 300.06L392.12 299.98L391.96 299.91L391.79 299.84L391.62 299.77L391.45 299.70L391.28 299.63L391.12 299.56L390.95 299.50L390.78 299.43L390.61 299.37L390.45 299.30L390.28 299.24L390.11 299.17L389.94 299.11L389.77 299.05L389.61 298.99L389.44 298.93L389.27 298.87L389.10 298.81L388.94 298.75L388.77 298.69L388.60 298.64L388.44 298.58L388.27 298.53L388.10 298.47L387.93 298.42L387.77 298.36L387.60 298.31L387.43 298.26L387.27 298.21L387.10 298.16L386.93 298.11L386.77 298.06L386.60 298.01L386.43 297.96L386.27 297.92L386.10 297.87L385.94 297.83L385.77 297.78L385.60 297.74L385.44 297.69L385.27 297.65L385.11 297.61L384.94 297.57L384.78 297.53L384.61 297.49L384.45 297.45L384.28 297.41L384.12 297.37L383.95 297.33L383.79 297.30L383.62 297.26L383.46 297.22L383.30 297.19L383.13 297.16L382.97 297.12L382.80 297.09L382.64 297.06L382.48 297.02L382.31 296.99L382.15 296.96L381.99 296.93L381.83 296.90L381.66 296.87L381.50 296.85L381.34 296.82L381.18 296.79L381.02 296.77L380.85 296.74L380.69 296.71L380.53 296.69L380.37 296.67L380.21 296.64L380.05 296.62L379.89 296.60L379.73 296.58L379.57 296.56L379.41 296.53L379.25 296.51L379.09 296.50L378.93 296.48L378.77 296.46L378.61 296.44L378.45 296.42L378.29 296.41L378.13 296.39L377.97 296.38L377.81 296.36L377.65 296.35L377.50 296.33L377.34 296.32L377.18 296.31L377.02 296.30L376.87 296.29L376.71 296.28L376.55 296.26L376.39 296.26L376.24 296.25L376.08 296.24L375.93 296.23L375.77 296.22L375.61 296.21L375.46 296.21L375.30 296.20L375.15 296.20L374.99 296.19L374.84 296.19L374.68 296.18L374.53 296.18L374.37 296.18L374.22 296.18L374.07 296.17L373.91 296.17L373.76 296.17L373.60 296.17L373.45 296.17L373.30 296.17L373.15 296.18L372.99 296.18L372.84 296.18L372.69 296.18L372.54 296.19L372.39 296.19L372.23 296.20L372.08 296.20L371.93 296.21L371.78 296.21L371.63 296.22L371.48 296.23L371.33 296.23L371.18 296.24L371.03 296.25L370.88 296.26L370.73 296.27L370.58 296.28L370.43 296.29L370.28 296.30L370.14 296.31L369.99 296.32L369.84 296.33L369.69 296.35L369.54 296.36L369.40 296.37L369.25 296.39L369.10 296.40L368.96 296.42L368.81 296.43L368.66 296.45L368.52 296.47L368.37 296.48L368.22 296.50L368.08 296.52L367.93 296.54L367.79 296.56L367.64 296.58L367.50 296.60L367.36 296.62L367.21 296.64L367.07 296.66L366.92 296.68L366.78 296.70L366.64 296.72L366.49 296.75L366.35 296.77L366.21 296.79L366.07 296.82L365.92 296.84L365.78 296.87L365.64 296.89L365.50 296.92L365.36 296.94L365.22 296.97L365.08 297.00L364.94 297.02L364.80 297.05L364.66 297.08L364.52 297.11L364.38 297.14L364.24 297.17L364.10 297.20L363.96 297.23L363.82 297.26L363.68 297.29L363.54 297.32L363.41 297.35L363.27 297.38L363.13 297.42L362.99 297.45L362.86 297.48L362.72 297.52L362.58 297.55L362.45 297.58L362.31 297.62L362.17 297.65L362.04 297.69L361.90 297.72L361.77 297.76L361.63 297.80L361.50 297.83L361.36 297.87L361.23 297.91L361.09 297.94L360.96 297.98L360.83 298.02L360.69 298.06L360.56 298.10L360.43 298.14L360.29 298.18L360.16 298.22L360.03 298.26L359.89 298.30L359.76 298.34L359.63 298.38L359.50 298.42L359.37 298.46L359.24 298.51L359.10 298.55L358.97 298.59L358.84 298.63L358.71 298.68L358.58 298.72L358.45 298.76L358.32 298.81L358.19 298.85L358.06 298.90L357.93 298.94L357.80 298.99L357.67 299.03L357.54 299.08L357.42 299.12L357.29 299.17L357.16 299.22L357.03 299.26L356.90 299.31L356.77 299.36L356.65 299.40L356.52 299.45L356.39 299.50L356.26 299.55L356.14 299.60L356.01 299.65L355.88 299.69L355.76 299.74L355.63 299.79L355.50 299.84L355.38 299.89L355.25 299.94L355.12 299.99L355.00 300.04L354.87 300.09L354.75 300.15L354.62 300.20L354.50 300.25L354.37 300.30L354.24 300.35L354.12 300.40L353.99 300.46L353.87 300.51L353.75 300.56L353.62 300.62L353.50 300.67L353.37 300.72L353.25 300.78L353.12 300.83L353.00 300.88L352.87 300.94L352.75 300.99L352.63 301.05L352.50 301.10L352.38 301.16L352.26 301.21L352.13 301.27L352.01 301.32L351.89 301.38L351.76 301.44L351.64 301.49L351.52 301.55L351.39 301.61L351.27 301.66L351.15 301.72L351.02 301.78L350.90 301.84L350.78 301.89L350.65 301.95L350.53 302.01L350.41 302.07L350.29 302.13L350.16 302.19L350.04 302.25L349.92 302.31L349.80 302.37L349.67 302.43L349.55 302.49L349.43 302.55L349.31 302.61L349.18 302.67L349.06 302.73L348.94 302.79L348.82 302.85L348.69 302.91L348.57 302.97L348.45 303.04L348.33 303.10L348.20 303.16L348.08 303.22L347.96 303.29L347.83 303.35L347.71 303.41L347.59 303.48L347.47 303.54L347.34 303.61L347.22 303.67L347.10 303.74L346.98 303.80L346.85 303.87L346.73 303.93L346.61 304.00L346.49 304.06L346.36 304.13L346.24 304.20L346.12 304.26L345.99 304.33L345.87 304.40L345.75 304.46L345.63 304.53L345.50 304.60L345.38 304.67L345.26 304.74L345.13 304.81L345.01 304.88L344.89 304.94L344.76 305.01L344.64 305.08L344.51 305.15L344.39 305.23L344.27 305.30L344.14 305.37L344.02 305.44L343.90 305.51L343.77 305.58L343.65 305.66L343.52 305.73L343.40 305.80L343.28 305.88L343.15 305.95L343.03 306.02L342.90 306.10L342.78 306.17L342.65 306.25L342.53 306.32L342.40 306.40L342.28 306.48L342.15 306.55L342.03 306.63L341.90 306.71L341.78 306.78L341.65 306.86L341.53 306.94L341.40 307.02L341.28 307.10L341.15 307.18L341.02 307.26L340.90 307.34L340.77 307.42L340.65 307.50L340.52 307.58L340.39 307.66L340.27 307.74L340.14 307.83L340.01 307.91L339.89 307.99L339.76 308.08L339.63 308.16L339.51 308.25L339.38 308.33L339.25 308.42L339.12 308.50L339.00 308.59L338.87 308.68L338.74 308.76L338.61 308.85L338.49 308.94L338.36 309.03L338.23 309.12L338.10 309.21L337.97 309.30L337.84 309.39L337.72 309.48L337.59 309.57L337.46 309.66L337.33 309.75L337.20 309.85L337.07 309.94L336.94 310.03L336.81 310.13L336.68 310.22L336.55 310.32L336.42 310.41L336.29 310.51L336.16 310.61L336.03 310.70L335.90 310.80L335.77 310.90L335.64 311.00L335.51 311.10L335.38 311.20L335.25 311.30L335.12 311.40L334.99 311.50L334.85 311.60L334.72 311.71L334.59 311.81L334.46 311.91L334.33 312.02L334.19 312.12L334.06 312.23L333.93 312.33L333.80 312.44L333.66 312.55L333.53 312.65L333.40 312.76L333.26 312.87L333.13 312.98L333.00 313.09L332.86 313.20L332.73 313.31L332.60 313.43L332.46 313.54L332.33 313.65L332.19 313.77L332.06 313.88L331.92 313.99L331.79 314.11L331.65 314.23L331.52 314.34L331.38 314.46L331.24 314.58L331.11 314.70L330.97 314.82L330.83 314.94L330.70 315.06L330.56 315.18L330.42 315.30L330.29 315.43L330.15 315.55L330.01 315.67L329.87 315.80L329.73 315.93L329.60 316.05L329.46 316.18L329.32 316.31L329.18 316.44L329.04 316.56L328.90 316.69L328.76 316.83L328.62 316.96L328.48 317.09L328.34 317.22L328.20 317.36L328.06 317.49L327.91 317.63L327.77 317.76L327.63 317.90L327.49 318.04L327.34 318.18L327.20 318.32L327.06 318.46L326.92 318.60L326.77 318.74L326.63 318.88L326.48 319.03L326.34 319.17L326.19 319.32L326.05 319.46L325.90 319.61L325.76 319.76L325.61 319.91L325.46 320.05L325.32 320.21L325.17 320.36L325.02 320.51L324.87 320.66L324.72 320.82L324.58 320.97L324.43 321.13L324.28 321.29L324.13 321.44L323.98 321.60L323.83 321.76L323.67 321.92L323.52 322.09L323.37 322.25L323.22 322.41L323.07 322.58L322.91 322.74L322.76 322.91L322.61 323.08L322.45 323.25L322.30 323.42L322.14 323.59L321.99 323.76L321.83 323.94L321.67 324.11L321.52 324.29L321.36 324.47L321.20 324.64L321.04 324.82L320.89 325.00L320.73 325.19L320.57 325.37L320.41 325.55L320.25 325.74L320.09 325.92L319.93 326.11L319.76 326.30L319.60 326.49L319.44 326.68L319.28 326.88L319.11 327.07L318.95 327.27L318.78 327.46L318.62 327.66L318.45 327.86L318.29 328.06L318.12 328.27L317.95 328.47L317.79 328.68L317.62 328.88L317.45 329.09L317.28 329.30Z" stroke="#ff00ff"/>
<path d="M879.51 326.60L879.52 324.59L879.55 322.59L879.59 320.58L879.65 318.57L879.73 316.57L879.83 314.56L879.94 312.56L880.07 310.55L880.21 308.55L880.37 306.55L880.55 304.55L880.75 302.55L880.96 300.55L881.19 298.55L881.44 296.56L881.70 294.57L881.98 292.57L882.27 290.58L882.58 288.60L882.91 286.61L883.25 284.63L883.61 282.65L883.98 280.67L884.38 278.69L884.78 276.72L885.20 274.75L885.64 272.78L886.09 270.81L886.56 268.85L887.05 266.89L887.55 264.94L888.06 262.99L888.59 261.04L889.14 259.09L889.70 257.15L890.27 255.21L890.86 253.28L891.47 251.35L892.09 249.43L892.72 247.51L893.37 245.59L894.03 243.68L894.71 241.77L895.40 239.87L896.11 237.97L896.83 236.08L897.57 234.20L898.32 232.31L899.08 230.44L899.86 228.57L900.65 226.70L901.46 224.84L902.28 222.99L903.11 221.14L903.96 219.30L904.82 217.46L905.69 215.63L906.58 213.81L907.48 211.99L908.40 210.18L909.32 208.38L910.26 206.58L911.22 204.79L912.19 203.00L913.17 201.23L914.16 199.46L915.16 197.70L916.18 195.94L917.21 194.20L918.26 192.46L919.31 190.73L920.38 189.00L921.46 187.29L922.56 185.58L923.66 183.88L924.78 182.19L925.91 180.51L927.06 178.83L928.21 177.17L929.38 175.51L930.56 173.86L931.75 172.23L932.95 170.60L934.16 168.98L935.39 167.37L936.62 165.76L937.87 164.17L939.13 162.59L940.40 161.02L941.69 159.45L942.98 157.90L944.28 156.36L945.60 154.83L946.93 153.30L948.26 151.79L949.61 150.29L950.97 148.80L952.34 147.32L953.72 145.85L955.11 144.39L956.51 142.95L957.93 141.51L959.35 140.08L960.78 138.67L962.23 137.27L963.68 135.87L965.14 134.49L966.62 133.13L968.10 131.77L969.60 130.42L971.10 129.09L972.62 127.77L974.14 126.46L975.67 125.16L977.22 123.87L978.77 122.60L980.33 121.34L981.91 120.09L983.49 118.85L985.08 117.63L986.68 116.42L988.29 115.22L989.91 114.03L991.54 112.86L993.18 111.70L994.83 110.55L996.49 109.41L998.15 108.29L999.83 107.18L1001.51 106.09L1003.20 105.01L1004.90 103.94L1006.61 102.89L1008.33 101.85L1010.06 100.82L1011.80 99.81L1013.54 98.81L1015.30 97.82L1017.06 96.85L1018.83 95.89L1020.61 94.95L1022.39 94.02L1024.19 93.11L1025.99 92.21L1027.80 91.32L1029.62 90.45L1031.45 89.60L1033.28 88.76L1035.12 87.93L1036.97 87.12L1038.83 86.32L1040.70 85.54L1042.57 84.78L1044.45 84.03L1046.34 83.29L1048.23 82.58L1050.13 81.87L1052.04 81.19L1053.95 80.51L1055.87 79.86L1057.80 79.22L1059.73 78.60L1061.66 77.99L1063.60 77.40L1065.55 76.83L1067.50 76.27L1069.46 75.73L1071.42 75.21L1073.38 74.70L1075.35 74.21L1077.33 73.74L1079.30 73.28L1081.28 72.85L1083.27 72.43L1085.25 72.02L1087.25 71.64L1089.24 71.27L1091.24 70.92L1093.23 70.59L1095.24 70.28L1097.24 69.98L1099.24 69.71L1101.25 69.45L1103.26 69.21L1105.27 68.99L1107.28 68.79L1109.30 68.60L1111.31 68.44L1113.32 68.29L1115.34 68.17L1117.36 68.06L1119.37 67.97L1121.39 67.90L1123.40 67.85L1125.42 67.83L1127.43 67.82L1129.45 67.83L1131.46 67.86L1133.47 67.91L1135.48 67.98L1137.49 68.07L1139.50 68.18L1141.51 68.31L1143.51 68.46L1145.51 68.64L1147.51 68.83L1149.51 69.04L1151.51 69.27L1153.50 69.51L1155.49 69.78L1157.48 70.07L1159.47 70.37L1161.45 70.69L1163.44 71.03L1165.42 71.39L1167.39 71.77L1169.37 72.16L1171.34 72.57L1173.31 72.99L1175.28 73.44L1177.24 73.89L1179.20 74.37L1181.15 74.86L1183.11 75.37L1185.06 75.89L1187.01 76.42L1188.95 76.98L1190.89 77.54L1192.83 78.12L1194.76 78.72L1196.69 79.33L1198.61 79.95L1200.54 80.59L1202.45 81.24L1204.37 81.90L1206.28 82.58L1208.18 83.27L1210.09 83.97L1211.98 84.68L1213.88 85.41L1215.76 86.15L1217.65 86.90L1219.53 87.66L1221.40 88.43L1223.27 89.22L1225.14 90.01L1227.00 90.82L1228.86 91.63L1230.71 92.46L1232.55 93.29L1234.40 94.14L1236.23 95.00L1238.06 95.87L1239.88 96.74L1241.70 97.63L1243.52 98.53L1245.32 99.45L1247.12 100.37L1248.92 101.30L1250.70 102.24L1252.48 103.20L1254.26 104.16L1256.03 105.14L1257.79 106.13L1259.54 107.12L1261.29 108.13L1263.02 109.16L1264.75 110.19L1266.48 111.23L1268.19 112.28L1269.90 113.35L1271.60 114.43L1273.29 115.52L1274.98 116.62L1276.65 117.73L1278.32 118.85L1279.98 119.98L1281.62 121.13L1283.27 122.29L1284.90 123.45L1286.52 124.63L1288.14 125.82L1289.74 127.02L1291.34 128.24L1292.93 129.46L1294.51 130.70L1296.09 131.94L1297.65 133.20L1299.21 134.47L1300.75 135.75L1302.29 137.04L1303.82 138.34L1305.34 139.65L1306.86 140.97L1308.36 142.30L1309.86 143.65L1311.34 145.00L1312.82 146.37L1314.29 147.74L1315.75 149.13L1317.21 150.52L1318.65 151.93L1320.08 153.35L1321.51 154.77L1322.93 156.21L1324.34 157.66L1325.73 159.12L1327.12 160.58L1328.50 162.06L1329.87 163.55L1331.23 165.05L1332.58 166.55L1333.92 168.07L1335.25 169.60L1336.57 171.13L1337.88 172.68L1339.18 174.23L1340.46 175.80L1341.74 177.37L1343.01 178.95L1344.26 180.54L1345.51 182.14L1346.74 183.75L1347.96 185.37L1349.17 186.99L1350.36 188.63L1351.55 190.27L1352.72 191.93L1353.89 193.59L1355.04 195.26L1356.17 196.93L1357.30 198.62L1358.41 200.31L1359.51 202.01L1360.60 203.72L1361.67 205.44L1362.73 207.17L1363.78 208.90L1364.82 210.64L1365.84 212.39L1366.85 214.15L1367.84 215.91L1368.82 217.69L1369.79 219.46L1370.74 221.25L1371.68 223.04L1372.60 224.85L1373.51 226.65L1374.41 228.47L1375.29 230.29L1376.16 232.12L1377.01 233.95L1377.85 235.80L1378.67 237.65L1379.47 239.50L1380.27 241.36L1381.04 243.23L1381.80 245.11L1382.55 246.99L1383.27 248.88L1383.99 250.77L1384.68 252.67L1385.37 254.57L1386.03 256.48L1386.68 258.40L1387.31 260.32L1387.92 262.24L1388.52 264.17L1389.10 266.11L1389.67 268.05L1390.22 269.99L1390.75 271.94L1391.26 273.89L1391.75 275.85L1392.23 277.81L1392.69 279.77L1393.13 281.74L1393.56 283.71L1393.96 285.68L1394.35 287.66L1394.72 289.64L1395.07 291.62L1395.41 293.60L1395.72 295.59L1396.02 297.58L1396.29 299.57L1396.55 301.57L1396.79 303.56L1397.01 305.56L1397.21 307.56L1397.39 309.56L1397.55 311.56L1397.69 313.56L1397.81 315.57L1397.91 317.57L1398.00 319.58L1398.06 321.58L1398.10 323.59L1398.12 325.60L1398.12 327.60L1398.10 329.61L1398.06 331.62L1398.00 333.62L1397.91 335.63L1397.81 337.63L1397.69 339.64L1397.55 341.64L1397.39 343.64L1397.21 345.64L1397.01 347.64L1396.79 349.64L1396.55 351.63L1396.29 353.63L1396.02 355.62L1395.72 357.61L1395.41 359.60L1395.07 361.58L1394.72 363.56L1394.35 365.54L1393.96 367.52L1393.56 369.49L1393.13 371.46L1392.69 373.43L1392.23 375.39L1391.75 377.35L1391.26 379.31L1390.75 381.26L1390.22 383.21L1389.67 385.15L1389.10 387.09L1388.52 389.03L1387.92 390.96L1387.31 392.88L1386.68 394.80L1386.03 396.72L1385.37 398.63L1384.68 400.53L1383.99 402.43L1383.27 404.32L1382.55 406.21L1381.80 408.09L1381.04 409.97L1380.27 411.84L1379.47 413.70L1378.67 415.55L1377.85 417.40L1377.01 419.25L1376.16 421.08L1375.29 422.91L1374.41 424.73L1373.51 426.55L1372.60 428.35L1371.68 430.16L1370.74 431.95L1369.79 433.74L1368.82 435.51L1367.84 437.29L1366.85 439.05L1365.84 440.81L1364.82 442.56L1363.78 444.30L1362.73 446.03L1361.67 447.76L1360.60 449.48L1359.51 451.19L1358.41 452.89L1357.30 454.58L1356.17 456.27L1355.04 457.94L1353.89 459.61L1352.72 461.27L1351.55 462.93L1350.36 464.57L1349.17 466.21L1347.96 467.83L1346.74 469.45L1345.51 471.06L1344.26 472.66L1343.01 474.25L1341.74 475.83L1340.46 477.40L1339.18 478.97L1337.88 480.52L1336.57 482.07L1335.25 483.60L1333.92 485.13L1332.58 486.65L1331.23 488.15L1329.87 489.65L1328.50 491.14L1327.12 492.62L1325.73 494.08L1324.34 495.54L1322.93 496.99L1321.51 498.43L1320.08 499.85L1318.65 501.27L1317.21 502.68L1315.75 504.07L1314.29 505.46L1312.82 506.83L1311.34 508.20L1309.86 509.55L1308.36 510.90L1306.86 512.23L1305.34 513.55L1303.82 514.86L1302.29 516.16L1300.75 517.45L1299.21 518.73L1297.65 520.00L1296.09 521.26L1294.51 522.50L1292.93 523.74L1291.34 524.96L1289.74 526.18L1288.14 527.38L1286.52 528.57L1284.90 529.75L1283.27 530.91L1281.62 532.07L1279.98 533.22L1278.32 534.35L1276.65 535.47L1274.98 536.58L1273.29 537.68L1271.60 538.77L1269.90 539.85L1268.19 540.92L1266.48 541.97L1264.75 543.01L1263.02 544.04L1261.29 545.07L1259.54 546.08L1257.79 547.07L1256.03 548.06L1254.26 549.04L1252.48 550.00L1250.70 550.96L1248.92 551.90L1247.12 552.83L1245.32 553.75L1243.52 554.67L1241.70 555.57L1239.88 556.46L1238.06 557.33L1236.23 558.20L1234.40 559.06L1232.55 559.91L1230.71 560.74L1228.86 561.57L1227.00 562.38L1225.14 563.19L1223.27 563.98L1221.40 564.77L1219.53 565.54L1217.65 566.30L1215.76 567.05L1213.88 567.79L1211.98 568.52L1210.09 569.23L1208.18 569.93L1206.28 570.62L1204.37 571.30L1202.45 571.96L1200.54 572.61L1198.61 573.25L1196.69 573.87L1194.76 574.48L1192.83 575.08L1190.89 575.66L1188.95 576.22L1187.01 576.78L1185.06 577.31L1183.11 577.83L1181.15 578.34L1179.20 578.83L1177.24 579.31L1175.28 579.76L1173.31 580.21L1171.34 580.63L1169.37 581.04L1167.39 581.43L1165.42 581.81L1163.44 582.17L1161.45 582.51L1159.47 582.83L1157.48 583.13L1155.49 583.42L1153.50 583.69L1151.51 583.93L1149.51 584.16L1147.51 584.37L1145.51 584.56L1143.51 584.74L1141.51 584.89L1139.50 585.02L1137.49 585.13L1135.48 585.22L1133.47 585.29L1131.46 585.34L1129.45 585.37L1127.43 585.38L1125.42 585.37L1123.40 585.35L1121.39 585.30L1119.37 585.23L1117.36 585.14L1115.34 585.03L1113.32 584.91L1111.31 584.76L1109.30 584.60L1107.28 584.41L1105.27 584.21L1103.26 583.99L1101.25 583.75L1099.24 583.49L1097.24 583.22L1095.24 582.92L1093.23 582.61L1091.24 582.28L1089.24 581.93L1087.25 581.56L1085.25 581.18L1083.27 580.77L1081.28 580.35L1079.30 579.92L1077.33 579.46L1075.35 578.99L1073.38 578.50L1071.42 577.99L1069.46 577.47L1067.50 576.93L1065.55 576.37L1063.60 575.80L1061.66 575.21L1059.73 574.60L1057.80 573.98L1055.87 573.34L1053.95 572.69L1052.04 572.01L1050.13 571.33L1048.23 570.62L1046.34 569.91L1044.45 569.17L1042.57 568.42L1040.70 567.66L1038.83 566.88L1036.97 566.08L1035.12 565.27L1033.28 564.44L1031.45 563.60L1029.62 562.75L1027.80 561.88L1025.99 560.99L1024.19 560.09L1022.39 559.18L1020.61 558.25L1018.83 557.31L1017.06 556.35L1015.30 555.38L1013.54 554.39L1011.80 553.39L1010.06 552.38L1008.33 551.35L1006.61 550.31L1004.90 549.26L1003.20 548.19L1001.51 547.11L999.83 546.02L998.15 544.91L996.49 543.79L994.83 542.65L993.18 541.50L991.54 540.34L989.91 539.17L988.29 537.98L986.68 536.78L985.08 535.57L983.49 534.35L981.91 533.11L980.33 531.86L978.77 530.60L977.22 529.33L975.67 528.04L974.14 526.74L972.62 525.43L971.10 524.11L969.60 522.78L968.10 521.43L966.62 520.07L965.14 518.71L963.68 517.33L962.23 515.93L960.78 514.53L959.35 513.12L957.93 511.69L956.51 510.25L955.11 508.81L953.72 507.35L952.34 505.88L950.97 504.40L949.61 502.91L948.26 501.41L946.93 499.90L945.60 498.37L944.28 496.84L942.98 495.30L941.69 493.75L940.40 492.18L939.13 490.61L937.87 489.03L936.62 487.44L935.39 485.83L934.16 484.22L932.95 482.60L931.75 480.97L930.56 479.34L929.38 477.69L928.21 476.03L927.06 474.37L925.91 472.69L924.78 471.01L923.66 469.32L922.56 467.62L921.46 465.91L920.38 464.20L919.31 462.47L918.26 460.74L917.21 459.00L916.18 457.26L915.16 455.50L914.16 453.74L913.17 451.97L912.19 450.20L911.22 448.41L910.26 446.62L909.32 444.82L908.40 443.02L907.48 441.21L906.58 439.39L905.69 437.57L904.82 435.74L903.96 433.90L903.11 432.06L902.28 430.21L901.46 428.36L900.65 426.50L899.86 424.63L899.08 422.76L898.32 420.89L897.57 419.00L896.83 417.12L896.11 415.23L895.40 413.33L894.71 411.43L894.03 409.52L893.37 407.61L892.72 405.69L892.09 403.77L891.47 401.85L890.86 399.92L890.27 397.99L889.70 396.05L889.14 394.11L888.59 392.16L888.06 390.21L887.55 388.26L887.05 386.31L886.56 384.35L886.09 382.39L885.64 380.42L885.20 378.45L884.78 376.48L884.38 374.51L883.98 372.53L883.61 370.55L883.25 368.57L882.91 366.59L882.58 364.60L882.27 362.62L881.98 360.63L881.70 358.63L881.44 356.64L881.19 354.65L880.96 352.65L880.75 350.65L880.55 348.65L880.37 346.65L880.21 344.65L880.07 342.65L879.94 340.64L879.83 338.64L879.73 336.63L879.65 334.63L879.59 332.62L879.55 330.61L879.52 328.61L879.51 326.60Z" stroke="#0000ff"/>
<path d="M923.99 326.40L923.80 326.97L923.61 327.55L923.42 328.12L923.24 328.70L923.06 329.28L922.89 329.86L922.73 330.44L922.57 331.02L922.41 331.61L922.26 332.19L922.12 332.78L921.98 333.37L921.84 333.96L921.71 334.55L921.59 335.14L921.47 335.73L921.35 336.33L921.24 336.92L921.13 337.52L921.03 338.12L920.93 338.71L920.84 339.31L920.75 339.91L920.67 340.51L920.59 341.11L920.52 341.72L920.45 342.32L920.38 342.92L920.32 343.53L920.26 344.13L920.21 344.74L920.16 345.34L920.12 345.95L920.08 346.56L920.04 347.16L920.01 347.77L919.98 348.38L919.96 348.99L919.94 349.60L919.93 350.21L919.91 350.82L919.91 351.43L919.90 352.04L919.90 352.65L919.91 353.26L919.91 353.87L919.92 354.48L919.94 355.10L919.96 355.71L919.98 356.32L920.01 356.93L920.04 357.55L920.07 358.16L920.10 358.77L920.14 359.39L920.19 360.00L920.23 360.61L920.28 361.23L920.34 361.84L920.39 362.45L920.45 363.07L920.52 363.68L920.58 364.29L920.65 364.91L920.73 365.52L920.80 366.14L920.88 366.75L920.96 367.36L921.05 367.98L921.14 368.59L921.23 369.20L921.32 369.82L921.42 370.43L921.52 371.04L921.63 371.66L921.73 372.27L921.84 372.88L921.95 373.50L922.07 374.11L922.19 374.72L922.31 375.33L922.43 375.95L922.56 376.56L922.69 377.17L922.82 377.78L922.95 378.39L923.09 379.01L923.23 379.62L923.37 380.23L923.52 380.84L923.67 381.45L923.82 382.06L923.97 382.67L924.13 383.28L924.29 383.89L924.45 384.50L924.61 385.11L924.78 385.72L924.95 386.33L925.12 386.94L925.29 387.55L925.47 388.16L925.65 388.77L925.83 389.38L926.02 389.98L926.20 390.59L926.39 391.20L926.58 391.81L926.78 392.41L926.98 393.02L927.18 393.63L927.38 394.23L927.58 394.84L927.79 395.44L928.00 396.05L928.21 396.65L928.43 397.26L928.64 397.86L928.86 398.47L929.09 399.07L929.31 399.67L929.54 400.27L929.77 400.88L930.00 401.48L930.23 402.08L930.47 402.68L930.71 403.28L930.95 403.88L931.20 404.48L931.45 405.08L931.70 405.68L931.95 406.28L932.20 406.88L932.46 407.48L932.72 408.07L932.98 408.67L933.25 409.27L933.52 409.86L933.79 410.46L934.06 411.05L934.33 411.64L934.61 412.24L934.89 412.83L935.18 413.42L935.46 414.01L935.75 414.61L936.04 415.20L936.34 415.79L936.63 416.37L936.93 416.96L937.23 417.55L937.54 418.14L937.84 418.72L938.15 419.31L938.47 419.89L938.78 420.48L939.10 421.06L939.42 421.64L939.74 422.22L940.07 422.80L940.40 423.38L940.73 423.96L941.06 424.54L941.40 425.11L941.74 425.69L942.08 426.27L942.42 426.84L942.77 427.41L943.12 427.98L943.48 428.55L943.83 429.12L944.19 429.69L944.55 430.26L944.92 430.83L945.28 431.39L945.65 431.95L946.03 432.52L946.40 433.08L946.78 433.64L947.16 434.20L947.55 434.75L947.93 435.31L948.32 435.87L948.72 436.42L949.11 436.97L949.51 437.52L949.91 438.07L950.31 438.62L950.72 439.16L951.13 439.71L951.54 440.25L951.96 440.79L952.38 441.33L952.80 441.87L953.22 442.41L953.65 442.94L954.08 443.48L954.52 444.01L954.95 444.54L955.39 445.07L955.83 445.59L956.28 446.12L956.72 446.64L957.17 447.16L957.63 447.68L958.08 448.19L958.54 448.71L959.00 449.22L959.47 449.73L959.94 450.24L960.41 450.75L960.88 451.25L961.36 451.75L961.84 452.25L962.32 452.75L962.80 453.25L963.29 453.74L963.78 454.23L964.28 454.72L964.77 455.21L965.27 455.69L965.77 456.17L966.28 456.65L966.79 457.13L967.30 457.61L967.81 458.08L968.33 458.55L968.85 459.01L969.37 459.48L969.89 459.94L970.42 460.40L970.95 460.86L971.48 461.31L972.02 461.76L972.56 462.21L973.10 462.66L973.64 463.10L974.19 463.54L974.74 463.98L975.29 464.41L975.84 464.85L976.40 465.27L976.96 465.70L977.52 466.12L978.09 466.54L978.65 466.96L979.22 467.37L979.80 467.79L980.37 468.19L980.95 468.60L981.53 469.00L982.11 469.40L982.70 469.79L983.28 470.19L983.87 470.58L984.47 470.96L985.06 471.34L985.66 471.72L986.26 472.10L986.86 472.47L987.46 472.84L988.07 473.21L988.68 473.57L989.29 473.93L989.90 474.28L990.52 474.64L991.14 474.98L991.76 475.33L992.38 475.67L993.01 476.01L993.63 476.34L994.26 476.67L994.89 477.00L995.53 477.33L996.16 477.65L996.80 477.96L997.44 478.27L998.08 478.58L998.72 478.89L999.37 479.19L1000.01 479.49L1000.66 479.78L1001.31 480.07L1001.97 480.36L1002.62 480.64L1003.28 480.92L1003.94 481.19L1004.60 481.47L1005.26 481.73L1005.92 482.00L1006.59 482.26L1007.25 482.51L1007.92 482.76L1008.59 483.01L1009.26 483.25L1009.94 483.49L1010.61 483.73L1011.29 483.96L1011.97 484.19L1012.65 484.41L1013.33 484.63L1014.01 484.84L1014.69 485.06L1015.38 485.26L1016.06 485.47L1016.75 485.66L1017.44 485.86L1018.13 486.05L1018.82 486.23L1019.51 486.42L1020.20 486.59L1020.90 486.77L1021.60 486.94L1022.29 487.10L1022.99 487.26L1023.69 487.42L1024.39 487.57L1025.09 487.72L1025.79 487.87L1026.49 488.01L1027.20 488.14L1027.90 488.27L1028.61 488.40L1029.31 488.52L1030.02 488.64L1030.73 488.75L1031.43 488.86L1032.14 488.97L1032.85 489.07L1033.56 489.17L1034.27 489.26L1034.98 489.35L1035.70 489.43L1036.41 489.51L1037.12 489.59L1037.83 489.66L1038.55 489.72L1039.26 489.78L1039.98 489.84L1040.69 489.89L1041.41 489.94L1042.12 489.99L1042.84 490.03L1043.55 490.06L1044.27 490.09L1044.98 490.12L1045.70 490.14L1046.41 490.16L1047.13 490.18L1047.85 490.19L1048.56 490.19L1049.28 490.19L1049.99 490.19L1050.71 490.18L1051.43 490.17L1052.14 490.15L1052.86 490.13L1053.57 490.10L1054.29 490.07L1055.00 490.04L1055.71 490.00L1056.43 489.96L1057.14 489.91L1057.85 489.86L1058.57 489.80L1059.28 489.74L1059.99 489.67L1060.70 489.61L1061.41 489.53L1062.12 489.45L1062.83 489.37L1063.54 489.29L1064.25 489.19L1064.95 489.10L1065.66 489.00L1066.37 488.90L1067.07 488.79L1067.78 488.68L1068.48 488.56L1069.18 488.44L1069.88 488.31L1070.58 488.19L1071.28 488.05L1071.98 487.91L1072.68 487.77L1073.38 487.63L1074.07 487.48L1074.77 487.32L1075.46 487.16L1076.15 487.00L1076.84 486.84L1077.53 486.67L1078.22 486.49L1078.91 486.31L1079.59 486.13L1080.28 485.94L1080.96 485.75L1081.64 485.56L1082.32 485.36L1083.00 485.15L1083.68 484.95L1084.36 484.74L1085.03 484.52L1085.70 484.30L1086.38 484.08L1087.05 483.85L1087.71 483.62L1088.38 483.39L1089.05 483.15L1089.71 482.91L1090.37 482.66L1091.03 482.41L1091.69 482.16L1092.35 481.90L1093.00 481.64L1093.65 481.37L1094.31 481.10L1094.95 480.83L1095.60 480.56L1096.25 480.28L1096.89 479.99L1097.53 479.71L1098.17 479.42L1098.81 479.12L1099.44 478.82L1100.08 478.52L1100.71 478.22L1101.34 477.91L1101.97 477.60L1102.59 477.28L1103.22 476.97L1103.84 476.64L1104.46 476.32L1105.07 475.99L1105.69 475.66L1106.30 475.32L1106.91 474.99L1107.52 474.64L1108.12 474.30L1108.73 473.95L1109.33 473.60L1109.92 473.25L1110.52 472.89L1111.11 472.53L1111.71 472.16L1112.30 471.80L1112.88 471.43L1113.47 471.05L1114.05 470.68L1114.63 470.30L1115.21 469.92L1115.78 469.53L1116.35 469.15L1116.92 468.76L1117.49 468.36L1118.05 467.97L1118.62 467.57L1119.18 467.17L1119.73 466.76L1120.29 466.36L1120.84 465.95L1121.39 465.53L1121.94 465.12L1122.48 464.70L1123.02 464.28L1123.56 463.86L1124.10 463.44L1124.63 463.01L1125.16 462.58L1125.69 462.15L1126.22 461.71L1126.74 461.27L1127.26 460.84L1127.78 460.39L1128.30 459.95L1128.81 459.50L1129.32 459.06L1129.83 458.60L1130.33 458.15L1130.83 457.70L1131.33 457.24L1131.83 456.78L1132.32 456.32L1132.81 455.86L1133.30 455.39L1133.79 454.92L1134.27 454.45L1134.75 453.98L1135.23 453.51L1135.71 453.03L1136.18 452.56L1136.65 452.08L1137.12 451.60L1137.58 451.12L1138.04 450.63L1138.50 450.15L1138.96 449.66L1139.41 449.17L1139.86 448.68L1140.31 448.19L1140.76 447.69L1141.20 447.20L1141.64 446.70L1142.08 446.20L1142.51 445.70L1142.94 445.20L1143.37 444.70L1143.80 444.19L1144.22 443.69L1144.64 443.18L1145.06 442.67L1145.48 442.16L1145.89 441.65L1146.30 441.14L1146.71 440.63L1147.12 440.11L1147.52 439.60L1147.92 439.08L1148.32 438.56L1148.71 438.04L1149.11 437.52L1149.50 437.00L1149.88 436.48L1150.27 435.95L1150.65 435.43L1151.03 434.90L1151.41 434.38L1151.78 433.85L1152.16 433.32L1152.53 432.79L1152.89 432.26L1153.26 431.73L1153.62 431.20L1153.98 430.66L1154.34 430.13L1154.69 429.59L1155.04 429.06L1155.39 428.52L1155.74 427.98L1156.09 427.45L1156.43 426.91L1156.77 426.37L1157.11 425.83L1157.44 425.29L1157.78 424.75L1158.11 424.21L1158.43 423.66L1158.76 423.12L1159.08 422.58L1159.41 422.03L1159.72 421.49L1160.04 420.94L1160.36 420.40L1160.67 419.85L1160.98 419.30L1161.28 418.76L1161.59 418.21L1161.89 417.66L1162.19 417.11L1162.49 416.56L1162.79 416.01L1163.08 415.46L1163.37 414.91L1163.66 414.36L1163.95 413.81L1164.24 413.26L1164.52 412.71L1164.80 412.15L1165.08 411.60L1165.36 411.05L1165.63 410.49L1165.90 409.94L1166.18 409.39L1166.44 408.83L1166.71 408.28L1166.97 407.72L1167.24 407.17L1167.50 406.61L1167.76 406.06L1168.01 405.50L1168.27 404.94L1168.52 404.39L1168.77 403.83L1169.02 403.27L1169.26 402.72L1169.51 402.16L1169.75 401.60L1169.99 401.05L1170.23 400.49L1170.46 399.93L1170.70 399.37L1170.93 398.81L1171.16 398.25L1171.39 397.70L1171.61 397.14L1171.84 396.58L1172.06 396.02L1172.28 395.46L1172.50 394.90L1172.72 394.34L1172.93 393.78L1173.15 393.22L1173.36 392.66L1173.57 392.10L1173.78 391.54L1173.98 390.98L1174.19 390.42L1174.39 389.86L1174.59 389.29L1174.79 388.73L1174.98 388.17L1175.18 387.61L1175.37 387.05L1175.56 386.49L1175.75 385.93L1175.94 385.36L1176.13 384.80L1176.31 384.24L1176.49 383.68L1176.68 383.12L1176.85 382.55L1177.03 381.99L1177.21 381.43L1177.38 380.87L1177.55 380.30L1177.72 379.74L1177.89 379.18L1178.06 378.61L1178.22 378.05L1178.38 377.49L1178.54 376.92L1178.70 376.36L1178.86 375.80L1179.02 375.23L1179.17 374.67L1179.32 374.11L1179.47 373.54L1179.62 372.98L1179.77 372.41L1179.92 371.85L1180.06 371.28L1180.20 370.72L1180.34 370.15L1180.48 369.59L1180.62 369.02L1180.75 368.46L1180.88 367.89L1181.02 367.33L1181.14 366.76L1181.27 366.20L1181.40 365.63L1181.52 365.07L1181.65 364.50L1181.77 363.94L1181.89 363.37L1182.00 362.80L1182.12 362.24L1182.23 361.67L1182.34 361.10L1182.45 360.54L1182.56 359.97L1182.67 359.40L1182.77 358.84L1182.88 358.27L1182.98 357.70L1183.08 357.14L1183.18 356.57L1183.27 356.00L1183.37 355.43L1183.46 354.87L1183.55 354.30L1183.64 353.73L1183.72 353.16L1183.81 352.60L1183.89 352.03L1183.97 351.46L1184.05 350.89L1184.13 350.32L1184.21 349.76L1184.28 349.19L1184.36 348.62L1184.43 348.05L1184.50 347.48L1184.56 346.91L1184.63 346.34L1184.69 345.78L1184.75 345.21L1184.81 344.64L1184.87 344.07L1184.93 343.50L1184.98 342.93L1185.04 342.36L1185.09 341.79L1185.14 341.22L1185.18 340.65L1185.23 340.08L1185.27 339.51L1185.31 338.94L1185.35 338.37L1185.39 337.80L1185.43 337.23L1185.46 336.66L1185.49 336.09L1185.52 335.52L1185.55 334.95L1185.58 334.38L1185.60 333.81L1185.63 333.24L1185.65 332.67L1185.67 332.10L1185.69 331.53L1185.70 330.96L1185.72 330.39L1185.73 329.82L1185.74 329.25L1185.75 328.68L1185.75 328.11L1185.76 327.54L1185.76 326.97L1185.76 326.40L1185.76 325.83L1185.76 325.26L1185.75 324.69L1185.75 324.12L1185.74 323.55L1185.73 322.98L1185.72 322.41L1185.70 321.84L1185.69 321.27L1185.67 320.70L1185.65 320.13L1185.63 319.56L1185.60 318.99L1185.58 318.42L1185.55 317.85L1185.52 317.28L1185.49 316.71L1185.46 316.14L1185.43 315.57L1185.39 315.00L1185.35 314.43L1185.31 313.86L1185.27 313.29L1185.23 312.72L1185.18 312.15L1185.14 311.58L1185.09 311.01L1185.04 310.44L1184.98 309.87L1184.93 309.30L1184.87 308.73L1184.81 308.16L1184.75 307.59L1184.69 307.02L1184.63 306.46L1184.56 305.89L1184.50 305.32L1184.43 304.75L1184.36 304.18L1184.28 303.61L1184.21 303.04L1184.13 302.48L1184.05 301.91L1183.97 301.34L1183.89 300.77L1183.81 300.20L1183.72 299.64L1183.64 299.07L1183.55 298.50L1183.46 297.93L1183.37 297.37L1183.27 296.80L1183.18 296.23L1183.08 295.66L1182.98 295.10L1182.88 294.53L1182.77 293.96L1182.67 293.40L1182.56 292.83L1182.45 292.26L1182.34 291.70L1182.23 291.13L1182.12 290.56L1182.00 290.00L1181.89 289.43L1181.77 288.86L1181.65 288.30L1181.52 287.73L1181.40 287.17L1181.27 286.60L1181.14 286.04L1181.02 285.47L1180.88 284.91L1180.75 284.34L1180.62 283.78L1180.48 283.21L1180.34 282.65L1180.20 282.08L1180.06 281.52L1179.92 280.95L1179.77 280.39L1179.62 279.82L1179.47 279.26L1179.32 278.69L1179.17 278.13L1179.02 277.57L1178.86 277.00L1178.70 276.44L1178.54 275.88L1178.38 275.31L1178.22 274.75L1178.06 274.19L1177.89 273.62L1177.72 273.06L1177.55 272.50L1177.38 271.93L1177.21 271.37L1177.03 270.81L1176.85 270.25L1176.68 269.68L1176.49 269.12L1176.31 268.56L1176.13 268.00L1175.94 267.44L1175.75 266.87L1175.56 266.31L1175.37 265.75L1175.18 265.19L1174.98 264.63L1174.79 264.07L1174.59 263.51L1174.39 262.94L1174.19 262.38L1173.98 261.82L1173.78 261.26L1173.57 260.70L1173.36 260.14L1173.15 259.58L1172.93 259.02L1172.72 258.46L1172.50 257.90L1172.28 257.34L1172.06 256.78L1171.84 256.22L1171.61 255.66L1171.39 255.10L1171.16 254.55L1170.93 253.99L1170.70 253.43L1170.46 252.87L1170.23 252.31L1169.99 251.75L1169.75 251.20L1169.51 250.64L1169.26 250.08L1169.02 249.53L1168.77 248.97L1168.52 248.41L1168.27 247.86L1168.01 247.30L1167.76 246.74L1167.50 246.19L1167.24 245.63L1166.97 245.08L1166.71 244.52L1166.44 243.97L1166.18 243.41L1165.90 242.86L1165.63 242.31L1165.36 241.75L1165.08 241.20L1164.80 240.65L1164.52 240.09L1164.24 239.54L1163.95 238.99L1163.66 238.44L1163.37 237.89L1163.08 237.34L1162.79 236.79L1162.49 236.24L1162.19 235.69L1161.89 235.14L1161.59 234.59L1161.28 234.04L1160.98 233.50L1160.67 232.95L1160.36 232.40L1160.04 231.86L1159.72 231.31L1159.41 230.77L1159.08 230.22L1158.76 229.68L1158.43 229.14L1158.11 228.59L1157.78 228.05L1157.44 227.51L1157.11 226.97L1156.77 226.43L1156.43 225.89L1156.09 225.35L1155.74 224.82L1155.39 224.28L1155.04 223.74L1154.69 223.21L1154.34 222.67L1153.98 222.14L1153.62 221.60L1153.26 221.07L1152.89 220.54L1152.53 220.01L1152.16 219.48L1151.78 218.95L1151.41 218.42L1151.03 217.90L1150.65 217.37L1150.27 216.85L1149.88 216.32L1149.50 215.80L1149.11 215.28L1148.71 214.76L1148.32 214.24L1147.92 213.72L1147.52 213.20L1147.12 212.69L1146.71 212.17L1146.30 211.66L1145.89 211.15L1145.48 210.64L1145.06 210.13L1144.64 209.62L1144.22 209.11L1143.80 208.61L1143.37 208.10L1142.94 207.60L1142.51 207.10L1142.08 206.60L1141.64 206.10L1141.20 205.60L1140.76 205.11L1140.31 204.61L1139.86 204.12L1139.41 203.63L1138.96 203.14L1138.50 202.65L1138.04 202.17L1137.58 201.68L1137.12 201.20L1136.65 200.72L1136.18 200.24L1135.71 199.77L1135.23 199.29L1134.75 198.82L1134.27 198.35L1133.79 197.88L1133.30 197.41L1132.81 196.94L1132.32 196.48L1131.83 196.02L1131.33 195.56L1130.83 195.10L1130.33 194.65L1129.83 194.20L1129.32 193.74L1128.81 193.30L1128.30 192.85L1127.78 192.41L1127.26 191.96L1126.74 191.53L1126.22 191.09L1125.69 190.65L1125.16 190.22L1124.63 189.79L1124.10 189.36L1123.56 188.94L1123.02 188.52L1122.48 188.10L1121.94 187.68L1121.39 187.27L1120.84 186.85L1120.29 186.44L1119.73 186.04L1119.18 185.63L1118.62 185.23L1118.05 184.83L1117.49 184.44L1116.92 184.04L1116.35 183.65L1115.78 183.27L1115.21 182.88L1114.63 182.50L1114.05 182.12L1113.47 181.75L1112.88 181.37L1112.30 181.00L1111.71 180.64L1111.11 180.27L1110.52 179.91L1109.92 179.55L1109.33 179.20L1108.73 178.85L1108.12 178.50L1107.52 178.16L1106.91 177.81L1106.30 177.48L1105.69 177.14L1105.07 176.81L1104.46 176.48L1103.84 176.16L1103.22 175.83L1102.59 175.52L1101.97 175.20L1101.34 174.89L1100.71 174.58L1100.08 174.28L1099.44 173.98L1098.81 173.68L1098.17 173.38L1097.53 173.09L1096.89 172.81L1096.25 172.52L1095.60 172.24L1094.95 171.97L1094.31 171.70L1093.65 171.43L1093.00 171.16L1092.35 170.90L1091.69 170.64L1091.03 170.39L1090.37 170.14L1089.71 169.89L1089.05 169.65L1088.38 169.41L1087.71 169.18L1087.05 168.95L1086.38 168.72L1085.70 168.50L1085.03 168.28L1084.36 168.06L1083.68 167.85L1083.00 167.65L1082.32 167.44L1081.64 167.24L1080.96 167.05L1080.28 166.86L1079.59 166.67L1078.91 166.49L1078.22 166.31L1077.53 166.13L1076.84 165.96L1076.15 165.80L1075.46 165.64L1074.77 165.48L1074.07 165.32L1073.38 165.17L1072.68 165.03L1071.98 164.89L1071.28 164.75L1070.58 164.61L1069.88 164.49L1069.18 164.36L1068.48 164.24L1067.78 164.12L1067.07 164.01L1066.37 163.90L1065.66 163.80L1064.95 163.70L1064.25 163.61L1063.54 163.51L1062.83 163.43L1062.12 163.35L1061.41 163.27L1060.70 163.19L1059.99 163.13L1059.28 163.06L1058.57 163.00L1057.85 162.94L1057.14 162.89L1056.43 162.84L1055.71 162.80L1055.00 162.76L1054.29 162.73L1053.57 162.70L1052.86 162.67L1052.14 162.65L1051.43 162.63L1050.71 162.62L1049.99 162.61L1049.28 162.61L1048.56 162.61L1047.85 162.61L1047.13 162.62L1046.41 162.64L1045.70 162.66L1044.98 162.68L1044.27 162.71L1043.55 162.74L1042.84 162.77L1042.12 162.81L1041.41 162.86L1040.69 162.91L1039.98 162.96L1039.26 163.02L1038.55 163.08L1037.83 163.14L1037.12 163.21L1036.41 163.29L1035.70 163.37L1034.98 163.45L1034.27 163.54L1033.56 163.63L1032.85 163.73L1032.14 163.83L1031.43 163.94L1030.73 164.05L1030.02 164.16L1029.31 164.28L1028.61 164.40L1027.90 164.53L1027.20 164.66L1026.49 164.79L1025.79 164.93L1025.09 165.08L1024.39 165.23L1023.69 165.38L1022.99 165.54L1022.29 165.70L1021.60 165.86L1020.90 166.03L1020.20 166.21L1019.51 166.38L1018.82 166.57L1018.13 166.75L1017.44 166.94L1016.75 167.14L1016.06 167.33L1015.38 167.54L1014.69 167.74L1014.01 167.96L1013.33 168.17L1012.65 168.39L1011.97 168.61L1011.29 168.84L1010.61 169.07L1009.94 169.31L1009.26 169.55L1008.59 169.79L1007.92 170.04L1007.25 170.29L1006.59 170.54L1005.92 170.80L1005.26 171.07L1004.60 171.33L1003.94 171.61L1003.28 171.88L1002.62 172.16L1001.97 172.44L1001.31 172.73L1000.66 173.02L1000.01 173.31L999.37 173.61L998.72 173.91L998.08 174.22L997.44 174.53L996.80 174.84L996.16 175.15L995.53 175.47L994.89 175.80L994.26 176.13L993.63 176.46L993.01 176.79L992.38 177.13L991.76 177.47L991.14 177.82L990.52 178.16L989.90 178.52L989.29 178.87L988.68 179.23L988.07 179.59L987.46 179.96L986.86 180.33L986.26 180.70L985.66 181.08L985.06 181.46L984.47 181.84L983.87 182.22L983.28 182.61L982.70 183.01L982.11 183.40L981.53 183.80L980.95 184.20L980.37 184.61L979.80 185.01L979.22 185.43L978.65 185.84L978.09 186.26L977.52 186.68L976.96 187.10L976.40 187.53L975.84 187.95L975.29 188.39L974.74 188.82L974.19 189.26L973.64 189.70L973.10 190.14L972.56 190.59L972.02 191.04L971.48 191.49L970.95 191.94L970.42 192.40L969.89 192.86L969.37 193.32L968.85 193.79L968.33 194.25L967.81 194.72L967.30 195.19L966.79 195.67L966.28 196.15L965.77 196.63L965.27 197.11L964.77 197.59L964.28 198.08L963.78 198.57L963.29 199.06L962.80 199.55L962.32 200.05L961.84 200.55L961.36 201.05L960.88 201.55L960.41 202.05L959.94 202.56L959.47 203.07L959.00 203.58L958.54 204.09L958.08 204.61L957.63 205.12L957.17 205.64L956.72 206.16L956.28 206.68L955.83 207.21L955.39 207.73L954.95 208.26L954.52 208.79L954.08 209.32L953.65 209.86L953.22 210.39L952.80 210.93L952.38 211.47L951.96 212.01L951.54 212.55L951.13 213.09L950.72 213.64L950.31 214.18L949.91 214.73L949.51 215.28L949.11 215.83L948.72 216.38L948.32 216.93L947.93 217.49L947.55 218.05L947.16 218.60L946.78 219.16L946.40 219.72L946.03 220.28L945.65 220.85L945.28 221.41L944.92 221.97L944.55 222.54L944.19 223.11L943.83 223.68L943.48 224.25L943.12 224.82L942.77 225.39L942.42 225.96L942.08 226.53L941.74 227.11L941.40 227.69L941.06 228.26L940.73 228.84L940.40 229.42L940.07 230.00L939.74 230.58L939.42 231.16L939.10 231.74L938.78 232.32L938.47 232.91L938.15 233.49L937.84 234.08L937.54 234.66L937.23 235.25L936.93 235.84L936.63 236.43L936.34 237.01L936.04 237.60L935.75 238.19L935.46 238.79L935.18 239.38L934.89 239.97L934.61 240.56L934.33 241.16L934.06 241.75L933.79 242.34L933.52 242.94L933.25 243.53L932.98 244.13L932.72 244.73L932.46 245.32L932.20 245.92L931.95 246.52L931.70 247.12L931.45 247.72L931.20 248.32L930.95 248.92L930.71 249.52L930.47 250.12L930.23 250.72L930.00 251.32L929.77 251.92L929.54 252.53L929.31 253.13L929.09 253.73L928.86 254.33L928.64 254.94L928.43 255.54L928.21 256.15L928.00 256.75L927.79 257.36L927.58 257.96L927.38 258.57L927.18 259.17L926.98 259.78L926.78 260.39L926.58 260.99L926.39 261.60L926.20 262.21L926.02 262.82L925.83 263.42L925.65 264.03L925.47 264.64L925.29 265.25L925.12 265.86L924.95 266.47L924.78 267.08L924.61 267.69L924.45 268.30L924.29 268.91L924.13 269.52L923.97 270.13L923.82 270.74L923.67 271.35L923.52 271.96L923.37 272.57L923.23 273.18L923.09 273.79L922.95 274.41L922.82 275.02L922.69 275.63L922.56 276.24L922.43 276.85L922.31 277.47L922.19 278.08L922.07 278.69L921.95 279.30L921.84 279.92L921.73 280.53L921.63 281.14L921.52 281.76L921.42 282.37L921.32 282.98L921.23 283.60L921.14 284.21L921.05 284.82L920.96 285.44L920.88 286.05L920.80 286.66L920.73 287.28L920.65 287.89L920.58 288.51L920.52 289.12L920.45 289.73L920.39 290.35L920.34 290.96L920.28 291.57L920.23 292.19L920.19 292.80L920.14 293.41L920.10 294.03L920.07 294.64L920.04 295.25L920.01 295.87L919.98 296.48L919.96 297.09L919.94 297.70L919.92 298.32L919.91 298.93L919.91 299.54L919.90 300.15L919.90 300.76L919.91 301.37L919.91 301.98L919.93 302.59L919.94 303.20L919.96 303.81L919.98 304.42L920.01 305.03L920.04 305.64L920.08 306.24L920.12 306.85L920.16 307.46L920.21 308.06L920.26 308.67L920.32 309.27L920.38 309.88L920.45 310.48L920.52 311.08L920.59 311.69L920.67 312.29L920.75 312.89L920.84 313.49L920.93 314.09L921.03 314.68L921.13 315.28L921.24 315.88L921.35 316.47L921.47 317.07L921.59 317.66L921.71 318.25L921.84 318.84L921.98 319.43L922.12 320.02L922.26 320.61L922.41 321.19L922.57 321.78L922.73 322.36L922.89 322.94L923.06 323.52L923.24 324.10L923.42 324.68L923.61 325.25L923.80 325.83L923.99 326.40ZM924.00 326.40L924.03 326.49L924.05 326.58L924.07 326.67L924.10 326.76L924.12 326.85L924.15 326.94L924.17 327.02L924.20 327.11L924.23 327.20L924.25 327.29L924.28 327.38L924.31 327.46L924.33 327.55L924.36 327.64L924.39 327.72L924.42 327.81L924.45 327.90L924.48 327.98L924.51 328.07L924.54 328.15L924.57 328.24L924.60 328.33L924.63 328.41L924.66 328.49L924.69 328.58L924.73 328.66L924.76 328.75L924.79 328.83L924.82 328.92L924.86 329.00L924.89 329.08L924.92 329.16L924.96 329.25L924.99 329.33L925.02 329.41L925.06 329.49L925.09 329.58L925.13 329.66L925.16 329.74L925.20 329.82L925.23 329.90L925.27 329.98L925.30 330.06L925.34 330.14L925.37 330.22L925.41 330.30L925.45 330.38L925.48 330.46L925.52 330.54L925.55 330.62L925.59 330.70L925.63 330.78L925.67 330.86L925.70 330.94L925.74 331.01L925.78 331.09L925.81 331.17L925.85 331.25L925.89 331.32L925.93 331.40L925.96 331.48L926.00 331.56L926.04 331.63L926.08 331.71L926.12 331.79L926.15 331.86L926.19 331.94L926.23 332.01L926.27 332.09L926.31 332.17L926.35 332.24L926.38 332.32L926.42 332.39L926.46 332.47L926.50 332.54L926.54 332.62L926.58 332.69L926.62 332.77L926.65 332.84L926.69 332.92L926.73 332.99L926.77 333.06L926.81 333.14L926.85 333.21L926.89 333.29L926.93 333.36L926.97 333.43L927.00 333.51L927.04 333.58L927.08 333.65L927.12 333.73L927.16 333.80L927.20 333.87L927.24 333.95L927.28 334.02L927.32 334.09L927.36 334.17L927.39 334.24L927.43 334.31L927.47 334.38L927.51 334.46L927.55 334.53L927.59 334.60L927.63 334.67L927.67 334.75L927.71 334.82L927.75 334.89L927.79 334.96L927.82 335.04L927.86 335.11L927.90 335.18L927.94 335.25L927.98 335.33L928.02 335.40L928.06 335.47L928.10 335.54L928.14 335.62L928.18 335.69L928.22 335.76L928.26 335.83L928.30 335.91L928.33 335.98L928.37 336.05L928.41 336.12L928.45 336.19L928.49 336.27L928.53 336.34L928.57 336.41L928.61 336.48L928.65 336.56L928.69 336.63L928.73 336.70L928.77 336.78L928.81 336.85L928.85 336.92L928.89 336.99L928.93 337.07L928.97 337.14L929.01 337.21L929.05 337.28L929.09 337.36L929.13 337.43L929.17 337.50L929.21 337.58L929.25 337.65L929.29 337.72L929.33 337.80L929.37 337.87L929.41 337.94L929.45 338.02L929.49 338.09L929.54 338.16L929.58 338.24L929.62 338.31L929.66 338.39L929.70 338.46L929.74 338.53L929.78 338.61L929.83 338.68L929.87 338.76L929.91 338.83L929.95 338.91L930.00 338.98L930.04 339.05L930.08 339.13L930.12 339.20L930.17 339.28L930.21 339.35L930.25 339.43L930.30 339.50L930.34 339.58L930.38 339.65L930.43 339.73L930.47 339.80L930.52 339.88L930.56 339.95L930.60 340.03L930.65 340.10L930.69 340.18L930.74 340.26L930.78 340.33L930.83 340.41L930.88 340.48L930.92 340.56L930.97 340.63L931.02 340.71L931.06 340.79L931.11 340.86L931.16 340.94L931.20 341.01L931.25 341.09L931.30 341.17L931.35 341.24L931.40 341.32L931.44 341.40L931.49 341.47L931.54 341.55L931.59 341.62L931.64 341.70L931.69 341.78L931.74 341.85L931.79 341.93L931.84 342.01L931.89 342.08L931.95 342.16L932.00 342.24L932.05 342.31L932.10 342.39L932.16 342.47L932.21 342.54L932.26 342.62L932.32 342.70L932.37 342.77L932.42 342.85L932.48 342.93L932.53 343.00L932.59 343.08L932.64 343.16L932.70 343.23L932.76 343.31L932.81 343.38L932.87 343.46L932.93 343.54L932.98 343.61L933.04 343.69L933.10 343.77L933.16 343.84L933.22 343.92L933.28 343.99L933.34 344.07L933.40 344.14L933.46 344.22L933.52 344.30L933.58 344.37L933.64 344.45L933.71 344.52L933.77 344.60L933.83 344.67L933.90 344.75L933.96 344.82L934.02 344.90L934.09 344.97L934.15 345.04L934.22 345.12L934.29 345.19L934.35 345.27L934.42 345.34L934.49 345.41L934.55 345.49L934.62 345.56L934.69 345.63L934.76 345.71L934.83 345.78L934.90 345.85L934.97 345.92L935.04 346.00L935.11 346.07L935.18 346.14L935.25 346.21L935.33 346.28L935.40 346.35L935.47 346.42L935.54 346.49L935.62 346.56L935.69 346.63L935.77 346.70L935.84 346.77L935.92 346.84L936.00 346.91L936.07 346.98L936.15 347.05L936.23 347.12L936.31 347.18L936.38 347.25L936.46 347.32L936.54 347.38L936.62 347.45L936.70 347.52L936.78 347.58L936.86 347.65L936.95 347.71L937.03 347.78L937.11 347.84L937.19 347.90L937.28 347.97L937.36 348.03L937.44 348.09L937.53 348.16L937.61 348.22L937.70 348.28L937.78 348.34L937.87 348.40L937.96 348.46L938.04 348.52L938.13 348.58L938.22 348.64L938.31 348.70L938.40 348.76L938.49 348.81L938.58 348.87L938.67 348.93L938.76 348.98L938.85 349.04L938.94 349.09L939.03 349.15L939.12 349.20L939.22 349.26L939.31 349.31L939.40 349.36L939.50 349.41L939.59 349.47L939.68 349.52L939.78 349.57L939.87 349.62L939.97 349.67L940.07 349.72L940.16 349.76L940.26 349.81L940.36 349.86L940.45 349.91L940.55 349.95L940.65 350.00L940.75 350.04L940.85 350.09L940.95 350.13L941.05 350.17L941.15 350.22L941.25 350.26L941.35 350.30L941.45 350.34L941.55 350.38L941.65 350.42L941.75 350.46L941.85 350.49L941.96 350.53L942.06 350.57L942.16 350.60L942.27 350.64L942.37 350.67L942.47 350.71L942.58 350.74L942.68 350.77L942.79 350.81L942.89 350.84L943.00 350.87L943.10 350.90L943.21 350.93L943.31 350.96L943.42 350.98L943.53 351.01L943.63 351.04L943.74 351.06L943.85 351.09L943.95 351.11L944.06 351.14L944.17 351.16L944.28 351.18L944.38 351.20L944.49 351.22L944.60 351.24L944.71 351.26L944.82 351.28L944.93 351.30L945.04 351.32L945.14 351.33L945.25 351.35L945.36 351.36L945.47 351.38L945.58 351.39L945.69 351.40L945.80 351.41L945.91 351.42L946.02 351.43L946.13 351.44L946.24 351.45L946.35 351.46L946.46 351.47L946.57 351.47L946.68 351.48L946.80 351.48L946.91 351.49L947.02 351.49L947.13 351.49L947.24 351.49L947.35 351.49L947.46 351.49L947.57 351.49L947.68 351.49L947.79 351.49L947.90 351.48L948.01 351.48L948.13 351.47L948.24 351.47L948.35 351.46L948.46 351.45L948.57 351.45L948.68 351.44L948.79 351.43L948.90 351.42L949.01 351.41L949.12 351.39L949.23 351.38L949.34 351.37L949.45 351.35L949.56 351.34L949.67 351.32L949.78 351.30L949.89 351.29L950.00 351.27L950.11 351.25L950.22 351.23L950.33 351.21L950.44 351.19L950.55 351.16L950.66 351.14L950.76 351.12L950.87 351.09L950.98 351.06L951.09 351.04L951.20 351.01L951.30 350.98L951.41 350.95L951.52 350.92L951.63 350.89L951.73 350.86L951.84 350.83L951.95 350.80L952.05 350.77L952.16 350.73L952.26 350.70L952.37 350.66L952.47 350.62L952.58 350.59L952.68 350.55L952.79 350.51L952.89 350.47L953.00 350.43L953.10 350.39L953.20 350.35L953.30 350.31L953.41 350.26L953.51 350.22L953.61 350.18L953.71 350.13L953.81 350.08L953.91 350.04L954.02 349.99L954.12 349.94L954.22 349.89L954.31 349.84L954.41 349.79L954.51 349.74L954.61 349.69L954.71 349.64L954.81 349.59L954.90 349.53L955.00 349.48L955.10 349.42L955.19 349.37L955.29 349.31L955.38 349.26L955.48 349.20L955.57 349.14L955.67 349.08L955.76 349.02L955.85 348.96L955.95 348.90L956.04 348.84L956.13 348.78L956.22 348.71L956.31 348.65L956.40 348.59L956.49 348.52L956.58 348.46L956.67 348.39L956.76 348.33L956.85 348.26L956.93 348.19L957.02 348.13L957.11 348.06L957.19 347.99L957.28 347.92L957.37 347.85L957.45 347.78L957.53 347.71L957.62 347.64L957.70 347.56L957.78 347.49L957.87 347.42L957.95 347.34L958.03 347.27L958.11 347.20L958.19 347.12L958.27 347.04L958.35 346.97L958.43 346.89L958.51 346.81L958.58 346.74L958.66 346.66L958.74 346.58L958.81 346.50L958.89 346.42L958.96 346.34L959.04 346.26L959.11 346.18L959.18 346.10L959.26 346.02L959.33 345.94L959.40 345.86L959.47 345.77L959.54 345.69L959.61 345.61L959.68 345.52L959.75 345.44L959.82 345.35L959.89 345.27L959.95 345.18L960.02 345.10L960.09 345.01L960.15 344.93L960.22 344.84L960.28 344.75L960.34 344.67L960.41 344.58L960.47 344.49L960.53 344.40L960.59 344.31L960.66 344.22L960.72 344.14L960.78 344.05L960.84 343.96L960.89 343.87L960.95 343.78L961.01 343.69L961.07 343.60L961.12 343.51L961.18 343.41L961.24 343.32L961.29 343.23L961.35 343.14L961.40 343.05L961.45 342.96L961.51 342.86L961.56 342.77L961.61 342.68L961.66 342.58L961.71 342.49L961.76 342.40L961.81 342.30L961.86 342.21L961.91 342.12L961.96 342.02L962.00 341.93L962.05 341.83L962.10 341.74L962.14 341.64L962.19 341.55L962.23 341.46L962.28 341.36L962.32 341.27L962.37 341.17L962.41 341.07L962.45 340.98L962.49 340.88L962.53 340.79L962.57 340.69L962.61 340.60L962.65 340.50L962.69 340.40L962.73 340.31L962.77 340.21L962.81 340.12L962.85 340.02L962.88 339.92L962.92 339.83L962.95 339.73L962.99 339.63L963.02 339.54L963.06 339.44L963.09 339.34L963.13 339.25L963.16 339.15L963.19 339.05L963.22 338.96L963.26 338.86L963.29 338.76L963.32 338.67L963.35 338.57L963.38 338.47L963.41 338.38L963.44 338.28L963.46 338.18L963.49 338.09L963.52 337.99L963.55 337.89L963.57 337.80L963.60 337.70L963.63 337.60L963.65 337.51L963.68 337.41L963.70 337.31L963.73 337.22L963.75 337.12L963.77 337.02L963.80 336.93L963.82 336.83L963.84 336.74L963.87 336.64L963.89 336.54L963.91 336.45L963.93 336.35L963.95 336.26L963.97 336.16L963.99 336.06L964.01 335.97L964.03 335.87L964.05 335.78L964.07 335.68L964.09 335.59L964.10 335.49L964.12 335.40L964.14 335.30L964.16 335.21L964.17 335.11L964.19 335.02L964.20 334.92L964.22 334.83L964.24 334.73L964.25 334.64L964.27 334.54L964.28 334.45L964.29 334.35L964.31 334.26L964.32 334.17L964.34 334.07L964.35 333.98L964.36 333.88L964.37 333.79L964.39 333.70L964.40 333.60L964.41 333.51L964.42 333.42L964.43 333.32L964.44 333.23L964.46 333.14L964.47 333.04L964.48 332.95L964.49 332.86L964.50 332.77L964.51 332.67L964.52 332.58L964.53 332.49L964.53 332.40L964.54 332.31L964.55 332.21L964.56 332.12L964.57 332.03L964.58 331.94L964.58 331.85L964.59 331.75L964.60 331.66L964.61 331.57L964.61 331.48L964.62 331.39L964.63 331.30L964.63 331.21L964.64 331.12L964.65 331.03L964.65 330.94L964.66 330.85L964.66 330.75L964.67 330.66L964.68 330.57L964.68 330.48L964.69 330.39L964.69 330.30L964.70 330.21L964.70 330.12L964.71 330.03L964.71 329.94L964.71 329.85L964.72 329.77L964.72 329.68L964.73 329.59L964.73 329.50L964.73 329.41L964.74 329.32L964.74 329.23L964.74 329.14L964.75 329.05L964.75 328.96L964.75 328.87L964.75 328.78L964.76 328.70L964.76 328.61L964.76 328.52L964.76 328.43L964.77 328.34L964.77 328.25L964.77 328.16L964.77 328.08L964.77 327.99L964.78 327.90L964.78 327.81L964.78 327.72L964.78 327.63L964.78 327.55L964.78 327.46L964.78 327.37L964.79 327.28L964.79 327.19L964.79 327.10L964.79 327.02L964.79 326.93L964.79 326.84L964.79 326.75L964.79 326.66L964.79 326.58L964.79 326.49L964.79 326.40L964.79 326.31L964.79 326.22L964.79 326.14L964.79 326.05L964.79 325.96L964.79 325.87L964.79 325.78L964.79 325.70L964.79 325.61L964.79 325.52L964.78 325.43L964.78 325.34L964.78 325.25L964.78 325.17L964.78 325.08L964.78 324.99L964.78 324.90L964.77 324.81L964.77 324.72L964.77 324.64L964.77 324.55L964.77 324.46L964.76 324.37L964.76 324.28L964.76 324.19L964.76 324.10L964.75 324.02L964.75 323.93L964.75 323.84L964.75 323.75L964.74 323.66L964.74 323.57L964.74 323.48L964.73 323.39L964.73 323.30L964.73 323.21L964.72 323.12L964.72 323.03L964.71 322.95L964.71 322.86L964.71 322.77L964.70 322.68L964.70 322.59L964.69 322.50L964.69 322.41L964.68 322.32L964.68 322.23L964.67 322.14L964.66 322.05L964.66 321.95L964.65 321.86L964.65 321.77L964.64 321.68L964.63 321.59L964.63 321.50L964.62 321.41L964.61 321.32L964.61 321.23L964.60 321.14L964.59 321.05L964.58 320.95L964.58 320.86L964.57 320.77L964.56 320.68L964.55 320.59L964.54 320.49L964.53 320.40L964.53 320.31L964.52 320.22L964.51 320.13L964.50 320.03L964.49 319.94L964.48 319.85L964.47 319.76L964.46 319.66L964.44 319.57L964.43 319.48L964.42 319.38L964.41 319.29L964.40 319.20L964.39 319.10L964.37 319.01L964.36 318.92L964.35 318.82L964.34 318.73L964.32 318.63L964.31 318.54L964.29 318.45L964.28 318.35L964.27 318.26L964.25 318.16L964.24 318.07L964.22 317.97L964.20 317.88L964.19 317.78L964.17 317.69L964.16 317.59L964.14 317.50L964.12 317.40L964.10 317.31L964.09 317.21L964.07 317.12L964.05 317.02L964.03 316.93L964.01 316.83L963.99 316.74L963.97 316.64L963.95 316.54L963.93 316.45L963.91 316.35L963.89 316.26L963.87 316.16L963.84 316.06L963.82 315.97L963.80 315.87L963.77 315.78L963.75 315.68L963.73 315.58L963.70 315.49L963.68 315.39L963.65 315.29L963.63 315.20L963.60 315.10L963.57 315.00L963.55 314.91L963.52 314.81L963.49 314.71L963.46 314.62L963.44 314.52L963.41 314.42L963.38 314.33L963.35 314.23L963.32 314.13L963.29 314.04L963.26 313.94L963.22 313.84L963.19 313.75L963.16 313.65L963.13 313.55L963.09 313.46L963.06 313.36L963.02 313.26L962.99 313.17L962.95 313.07L962.92 312.97L962.88 312.88L962.85 312.78L962.81 312.68L962.77 312.59L962.73 312.49L962.69 312.40L962.65 312.30L962.61 312.20L962.57 312.11L962.53 312.01L962.49 311.92L962.45 311.82L962.41 311.73L962.37 311.63L962.32 311.53L962.28 311.44L962.23 311.34L962.19 311.25L962.14 311.16L962.10 311.06L962.05 310.97L962.00 310.87L961.96 310.78L961.91 310.68L961.86 310.59L961.81 310.50L961.76 310.40L961.71 310.31L961.66 310.22L961.61 310.12L961.56 310.03L961.51 309.94L961.45 309.84L961.40 309.75L961.35 309.66L961.29 309.57L961.24 309.48L961.18 309.39L961.12 309.29L961.07 309.20L961.01 309.11L960.95 309.02L960.89 308.93L960.84 308.84L960.78 308.75L960.72 308.66L960.66 308.58L960.59 308.49L960.53 308.40L960.47 308.31L960.41 308.22L960.34 308.13L960.28 308.05L960.22 307.96L960.15 307.87L960.09 307.79L960.02 307.70L959.95 307.62L959.89 307.53L959.82 307.45L959.75 307.36L959.68 307.28L959.61 307.19L959.54 307.11L959.47 307.03L959.40 306.94L959.33 306.86L959.26 306.78L959.18 306.70L959.11 306.62L959.04 306.54L958.96 306.46L958.89 306.38L958.81 306.30L958.74 306.22L958.66 306.14L958.58 306.06L958.51 305.99L958.43 305.91L958.35 305.83L958.27 305.76L958.19 305.68L958.11 305.60L958.03 305.53L957.95 305.46L957.87 305.38L957.78 305.31L957.70 305.24L957.62 305.16L957.53 305.09L957.45 305.02L957.37 304.95L957.28 304.88L957.19 304.81L957.11 304.74L957.02 304.67L956.93 304.61L956.85 304.54L956.76 304.47L956.67 304.41L956.58 304.34L956.49 304.28L956.40 304.21L956.31 304.15L956.22 304.09L956.13 304.02L956.04 303.96L955.95 303.90L955.85 303.84L955.76 303.78L955.67 303.72L955.57 303.66L955.48 303.60L955.38 303.54L955.29 303.49L955.19 303.43L955.10 303.38L955.00 303.32L954.90 303.27L954.81 303.21L954.71 303.16L954.61 303.11L954.51 303.06L954.41 303.01L954.31 302.96L954.22 302.91L954.12 302.86L954.02 302.81L953.91 302.76L953.81 302.72L953.71 302.67L953.61 302.62L953.51 302.58L953.41 302.54L953.30 302.49L953.20 302.45L953.10 302.41L953.00 302.37L952.89 302.33L952.79 302.29L952.68 302.25L952.58 302.21L952.47 302.18L952.37 302.14L952.26 302.10L952.16 302.07L952.05 302.03L951.95 302.00L951.84 301.97L951.73 301.94L951.63 301.91L951.52 301.88L951.41 301.85L951.30 301.82L951.20 301.79L951.09 301.76L950.98 301.74L950.87 301.71L950.76 301.68L950.66 301.66L950.55 301.64L950.44 301.61L950.33 301.59L950.22 301.57L950.11 301.55L950.00 301.53L949.89 301.51L949.78 301.50L949.67 301.48L949.56 301.46L949.45 301.45L949.34 301.43L949.23 301.42L949.12 301.41L949.01 301.39L948.90 301.38L948.79 301.37L948.68 301.36L948.57 301.35L948.46 301.35L948.35 301.34L948.24 301.33L948.13 301.33L948.01 301.32L947.90 301.32L947.79 301.31L947.68 301.31L947.57 301.31L947.46 301.31L947.35 301.31L947.24 301.31L947.13 301.31L947.02 301.31L946.91 301.31L946.80 301.32L946.68 301.32L946.57 301.33L946.46 301.33L946.35 301.34L946.24 301.35L946.13 301.36L946.02 301.37L945.91 301.38L945.80 301.39L945.69 301.40L945.58 301.41L945.47 301.42L945.36 301.44L945.25 301.45L945.14 301.47L945.04 301.48L944.93 301.50L944.82 301.52L944.71 301.54L944.60 301.56L944.49 301.58L944.38 301.60L944.28 301.62L944.17 301.64L944.06 301.66L943.95 301.69L943.85 301.71L943.74 301.74L943.63 301.76L943.53 301.79L943.42 301.82L943.31 301.84L943.21 301.87L943.10 301.90L943.00 301.93L942.89 301.96L942.79 301.99L942.68 302.03L942.58 302.06L942.47 302.09L942.37 302.13L942.27 302.16L942.16 302.20L942.06 302.23L941.96 302.27L941.85 302.31L941.75 302.34L941.65 302.38L941.55 302.42L941.45 302.46L941.35 302.50L941.25 302.54L941.15 302.58L941.05 302.63L940.95 302.67L940.85 302.71L940.75 302.76L940.65 302.80L940.55 302.85L940.45 302.89L940.36 302.94L940.26 302.99L940.16 303.04L940.07 303.08L939.97 303.13L939.87 303.18L939.78 303.23L939.68 303.28L939.59 303.33L939.50 303.39L939.40 303.44L939.31 303.49L939.22 303.54L939.12 303.60L939.03 303.65L938.94 303.71L938.85 303.76L938.76 303.82L938.67 303.87L938.58 303.93L938.49 303.99L938.40 304.04L938.31 304.10L938.22 304.16L938.13 304.22L938.04 304.28L937.96 304.34L937.87 304.40L937.78 304.46L937.70 304.52L937.61 304.58L937.53 304.64L937.44 304.71L937.36 304.77L937.28 304.83L937.19 304.90L937.11 304.96L937.03 305.02L936.95 305.09L936.86 305.15L936.78 305.22L936.70 305.28L936.62 305.35L936.54 305.42L936.46 305.48L936.38 305.55L936.31 305.62L936.23 305.68L936.15 305.75L936.07 305.82L936.00 305.89L935.92 305.96L935.84 306.03L935.77 306.10L935.69 306.17L935.62 306.24L935.54 306.31L935.47 306.38L935.40 306.45L935.33 306.52L935.25 306.59L935.18 306.66L935.11 306.73L935.04 306.80L934.97 306.88L934.90 306.95L934.83 307.02L934.76 307.09L934.69 307.17L934.62 307.24L934.55 307.31L934.49 307.39L934.42 307.46L934.35 307.53L934.29 307.61L934.22 307.68L934.15 307.76L934.09 307.83L934.02 307.90L933.96 307.98L933.90 308.05L933.83 308.13L933.77 308.20L933.71 308.28L933.64 308.35L933.58 308.43L933.52 308.50L933.46 308.58L933.40 308.66L933.34 308.73L933.28 308.81L933.22 308.88L933.16 308.96L933.10 309.03L933.04 309.11L932.98 309.19L932.93 309.26L932.87 309.34L932.81 309.42L932.76 309.49L932.70 309.57L932.64 309.64L932.59 309.72L932.53 309.80L932.48 309.87L932.42 309.95L932.37 310.03L932.32 310.10L932.26 310.18L932.21 310.26L932.16 310.33L932.10 310.41L932.05 310.49L932.00 310.56L931.95 310.64L931.89 310.72L931.84 310.79L931.79 310.87L931.74 310.95L931.69 311.02L931.64 311.10L931.59 311.18L931.54 311.25L931.49 311.33L931.44 311.40L931.40 311.48L931.35 311.56L931.30 311.63L931.25 311.71L931.20 311.79L931.16 311.86L931.11 311.94L931.06 312.01L931.02 312.09L930.97 312.17L930.92 312.24L930.88 312.32L930.83 312.39L930.78 312.47L930.74 312.54L930.69 312.62L930.65 312.70L930.60 312.77L930.56 312.85L930.52 312.92L930.47 313.00L930.43 313.07L930.38 313.15L930.34 313.22L930.30 313.30L930.25 313.37L930.21 313.45L930.17 313.52L930.12 313.60L930.08 313.67L930.04 313.75L930.00 313.82L929.95 313.89L929.91 313.97L929.87 314.04L929.83 314.12L929.78 314.19L929.74 314.27L929.70 314.34L929.66 314.41L929.62 314.49L929.58 314.56L929.54 314.64L929.49 314.71L929.45 314.78L929.41 314.86L929.37 314.93L929.33 315.00L929.29 315.08L929.25 315.15L929.21 315.22L929.17 315.30L929.13 315.37L929.09 315.44L929.05 315.52L929.01 315.59L928.97 315.66L928.93 315.73L928.89 315.81L928.85 315.88L928.81 315.95L928.77 316.02L928.73 316.10L928.69 316.17L928.65 316.24L928.61 316.32L928.57 316.39L928.53 316.46L928.49 316.53L928.45 316.61L928.41 316.68L928.37 316.75L928.33 316.82L928.30 316.89L928.26 316.97L928.22 317.04L928.18 317.11L928.14 317.18L928.10 317.26L928.06 317.33L928.02 317.40L927.98 317.47L927.94 317.55L927.90 317.62L927.86 317.69L927.82 317.76L927.79 317.84L927.75 317.91L927.71 317.98L927.67 318.05L927.63 318.13L927.59 318.20L927.55 318.27L927.51 318.34L927.47 318.42L927.43 318.49L927.39 318.56L927.36 318.63L927.32 318.71L927.28 318.78L927.24 318.85L927.20 318.93L927.16 319.00L927.12 319.07L927.08 319.15L927.04 319.22L927.00 319.29L926.97 319.37L926.93 319.44L926.89 319.51L926.85 319.59L926.81 319.66L926.77 319.74L926.73 319.81L926.69 319.88L926.65 319.96L926.62 320.03L926.58 320.11L926.54 320.18L926.50 320.26L926.46 320.33L926.42 320.41L926.38 320.48L926.35 320.56L926.31 320.63L926.27 320.71L926.23 320.79L926.19 320.86L926.15 320.94L926.12 321.01L926.08 321.09L926.04 321.17L926.00 321.24L925.96 321.32L925.93 321.40L925.89 321.48L925.85 321.55L925.81 321.63L925.78 321.71L925.74 321.79L925.70 321.86L925.67 321.94L925.63 322.02L925.59 322.10L925.55 322.18L925.52 322.26L925.48 322.34L925.45 322.42L925.41 322.50L925.37 322.58L925.34 322.66L925.30 322.74L925.27 322.82L925.23 322.90L925.20 322.98L925.16 323.06L925.13 323.14L925.09 323.22L925.06 323.31L925.02 323.39L924.99 323.47L924.96 323.55L924.92 323.64L924.89 323.72L924.86 323.80L924.82 323.88L924.79 323.97L924.76 324.05L924.73 324.14L924.69 324.22L924.66 324.31L924.63 324.39L924.60 324.47L924.57 324.56L924.54 324.65L924.51 324.73L924.48 324.82L924.45 324.90L924.42 324.99L924.39 325.08L924.36 325.16L924.33 325.25L924.31 325.34L924.28 325.42L924.25 325.51L924.23 325.60L924.20 325.69L924.17 325.78L924.15 325.86L924.12 325.95L924.10 326.04L924.07 326.13L924.05 326.22L924.03 326.31L924.00 326.40Z" stroke="#ff00ff"/>
</g>
<path d="M365.60 62.50V596.10M98.90 329.30H632.60" stroke="#666" stroke-width="1.7" fill="none"/>
<path d="M1138.90 62.40V590.60M874.90 326.60H1403.30" stroke="#666" stroke-width="1.7" fill="none"/>
<g font-family="'Liberation Sans', Arial, Helvetica, sans-serif" font-size="31" letter-spacing="-0.7" fill="#000">
<text transform="translate(103.60 632.96) scale(1 1.06)" text-anchor="middle">0.0</text>
<text transform="translate(92.70 603.17) scale(1 1.06)" text-anchor="end">0.0</text>
<text transform="translate(208.28 632.96) scale(1 1.06)" text-anchor="middle">0.2</text>
<text transform="translate(92.70 498.47) scale(1 1.06)" text-anchor="end">0.2</text>
<text transform="translate(312.96 632.96) scale(1 1.06)" text-anchor="middle">0.4</text>
<text transform="translate(92.70 393.77) scale(1 1.06)" text-anchor="end">0.4</text>
<text transform="translate(417.64 632.96) scale(1 1.06)" text-anchor="middle">0.6</text>
<text transform="translate(92.70 289.07) scale(1 1.06)" text-anchor="end">0.6</text>
<text transform="translate(522.32 632.96) scale(1 1.06)" text-anchor="middle">0.8</text>
<text transform="translate(92.70 184.37) scale(1 1.06)" text-anchor="end">0.8</text>
<text transform="translate(627.00 632.96) scale(1 1.06)" text-anchor="middle">1.0</text>
<text transform="translate(92.70 79.67) scale(1 1.06)" text-anchor="end">1.0</text>
<text transform="translate(879.60 627.46) scale(1 1.06)" text-anchor="middle">0.0</text>
<text transform="translate(869.50 597.67) scale(1 1.06)" text-anchor="end">0.0</text>
<text transform="translate(983.24 627.46) scale(1 1.06)" text-anchor="middle">0.2</text>
<text transform="translate(869.50 494.07) scale(1 1.06)" text-anchor="end">0.2</text>
<text transform="translate(1086.88 627.46) scale(1 1.06)" text-anchor="middle">0.4</text>
<text transform="translate(869.50 390.47) scale(1 1.06)" text-anchor="end">0.4</text>
<text transform="translate(1190.52 627.46) scale(1 1.06)" text-anchor="middle">0.6</text>
<text transform="translate(869.50 286.87) scale(1 1.06)" text-anchor="end">0.6</text>
<text transform="translate(1294.16 627.46) scale(1 1.06)" text-anchor="middle">0.8</text>
<text transform="translate(869.50 183.27) scale(1 1.06)" text-anchor="end">0.8</text>
<text transform="translate(1397.80 627.46) scale(1 1.06)" text-anchor="middle">1.0</text>
<text transform="translate(869.50 79.67) scale(1 1.06)" text-anchor="end">1.0</text>
</g>
<g font-family="'Liberation Sans', Arial, Helvetica, sans-serif" font-size="45" fill="#000" text-anchor="middle">
<text x="358.6" y="34.7">(a)</text>
<text x="1135.8" y="34.7">(b)</text>
</g>
<g font-family="'DejaVu Sans', sans-serif" font-style="italic" fill="#000">
<text x="341" y="699.3" font-size="50">χ</text><text x="372.2" y="708.5" font-size="35">y</text>
<text x="1115" y="692.8" font-size="50">χ</text><text x="1145" y="701.8" font-size="35">y</text>
<g transform="translate(26.8,354) rotate(-90)"><text x="0" y="0" font-size="50">χ</text><text x="30.6" y="9" font-size="35">x</text></g>
<g transform="translate(803.7,350.6) rotate(-90)"><text x="0" y="0" font-size="50">χ</text><text x="30.4" y="8.9" font-size="35">x</text></g>
</g>
</svg>
</body></html>
